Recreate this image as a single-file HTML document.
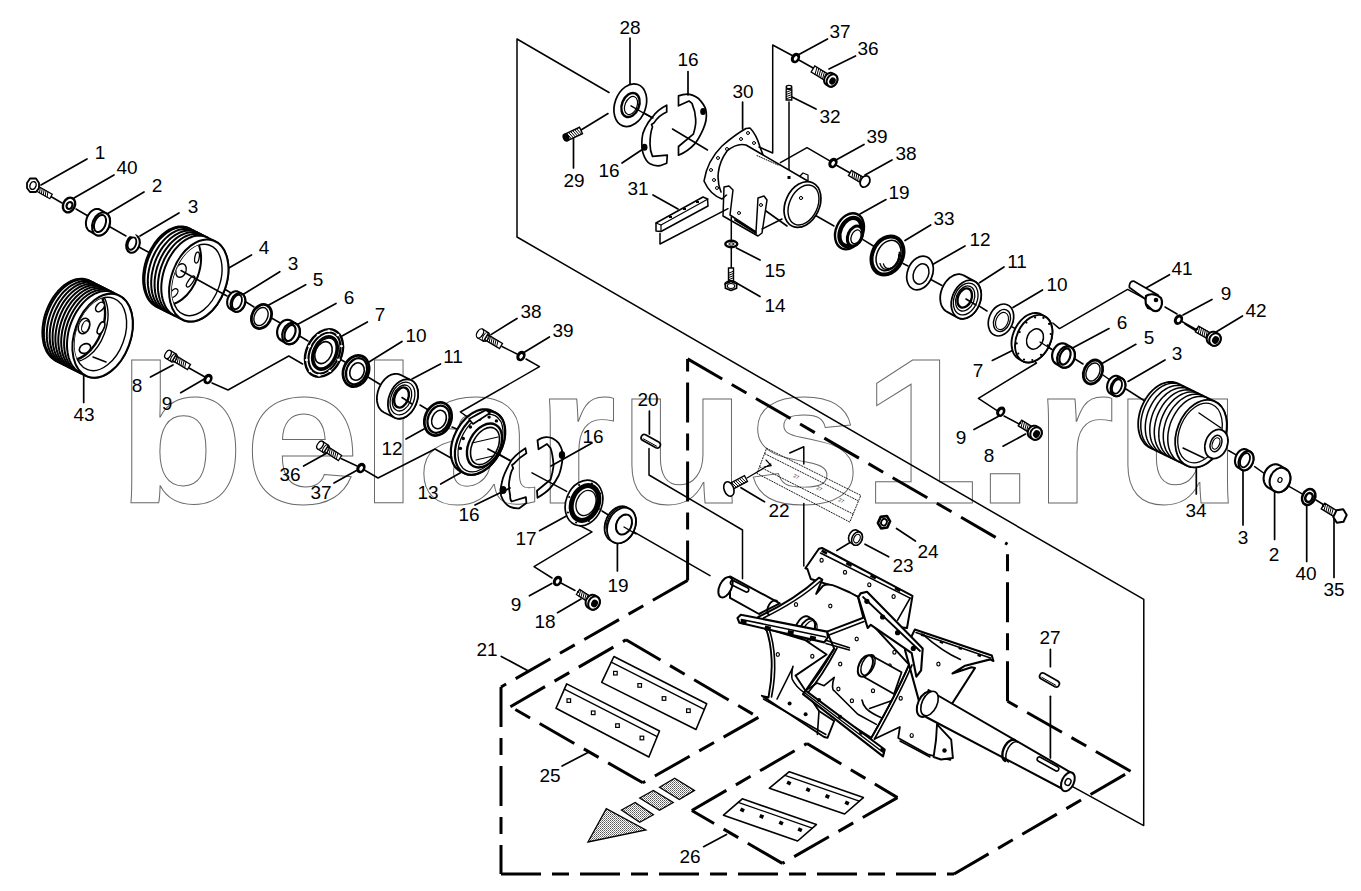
<!DOCTYPE html><html><head><meta charset="utf-8"><style>html,body{margin:0;padding:0;background:#fff;width:1361px;height:891px;overflow:hidden}svg{display:block}</style></head><body><svg width="1361" height="891" viewBox="0 0 1361 891" font-family="Liberation Sans, sans-serif" stroke-linecap="round">
<rect width="1361" height="891" fill="#fff"/>
<g font-size="208" font-weight="bold" fill="none" stroke="#6a6a6a" stroke-width="1" font-family="Liberation Sans, sans-serif"><text x="117.3" y="503" transform="translate(0 503) scale(1 0.947) translate(0 -503)">bela</text><text x="535.7" y="503" transform="translate(0 503) scale(1 0.947) translate(0 -503)">r</text><text x="619" y="503" transform="translate(0 503) scale(1 0.947) translate(0 -503)">us</text><text x="862.5" y="503">1</text><text x="976.3" y="503" transform="translate(0 503) scale(1 0.947) translate(0 -503)">.ru</text></g>
<g fill="#000" stroke="none">
<text x="100.0" y="159.0" font-size="19" text-anchor="middle">1</text>
<text x="127.0" y="174.0" font-size="19" text-anchor="middle">40</text>
<text x="157.0" y="192.0" font-size="19" text-anchor="middle">2</text>
<text x="193.0" y="213.0" font-size="19" text-anchor="middle">3</text>
<text x="264.0" y="254.0" font-size="19" text-anchor="middle">4</text>
<text x="293.0" y="270.0" font-size="19" text-anchor="middle">3</text>
<text x="318.0" y="286.0" font-size="19" text-anchor="middle">5</text>
<text x="349.0" y="304.0" font-size="19" text-anchor="middle">6</text>
<text x="380.0" y="321.0" font-size="19" text-anchor="middle">7</text>
<text x="416.0" y="342.0" font-size="19" text-anchor="middle">10</text>
<text x="453.0" y="363.0" font-size="19" text-anchor="middle">11</text>
<text x="392.0" y="455.0" font-size="19" text-anchor="middle">12</text>
<text x="428.0" y="499.0" font-size="19" text-anchor="middle">13</text>
<text x="290.0" y="481.0" font-size="19" text-anchor="middle">36</text>
<text x="321.0" y="499.0" font-size="19" text-anchor="middle">37</text>
<text x="137.0" y="392.0" font-size="19" text-anchor="middle">8</text>
<text x="167.0" y="410.0" font-size="19" text-anchor="middle">9</text>
<text x="84.0" y="421.0" font-size="19" text-anchor="middle">43</text>
<text x="630.0" y="34.0" font-size="19" text-anchor="middle">28</text>
<text x="688.0" y="66.0" font-size="19" text-anchor="middle">16</text>
<text x="609.0" y="177.0" font-size="19" text-anchor="middle">16</text>
<text x="574.0" y="187.0" font-size="19" text-anchor="middle">29</text>
<text x="743.0" y="98.0" font-size="19" text-anchor="middle">30</text>
<text x="638.0" y="195.0" font-size="19" text-anchor="middle">31</text>
<text x="840.0" y="38.0" font-size="19" text-anchor="middle">37</text>
<text x="868.0" y="55.0" font-size="19" text-anchor="middle">36</text>
<text x="830.0" y="123.0" font-size="19" text-anchor="middle">32</text>
<text x="877.0" y="143.0" font-size="19" text-anchor="middle">39</text>
<text x="906.0" y="160.0" font-size="19" text-anchor="middle">38</text>
<text x="899.0" y="199.0" font-size="19" text-anchor="middle">19</text>
<text x="944.0" y="225.0" font-size="19" text-anchor="middle">33</text>
<text x="980.0" y="246.0" font-size="19" text-anchor="middle">12</text>
<text x="1017.0" y="268.0" font-size="19" text-anchor="middle">11</text>
<text x="1057.0" y="291.0" font-size="19" text-anchor="middle">10</text>
<text x="775.0" y="277.0" font-size="19" text-anchor="middle">15</text>
<text x="775.0" y="312.0" font-size="19" text-anchor="middle">14</text>
<text x="1182.0" y="275.0" font-size="19" text-anchor="middle">41</text>
<text x="1226.0" y="300.0" font-size="19" text-anchor="middle">9</text>
<text x="1256.0" y="317.0" font-size="19" text-anchor="middle">42</text>
<text x="1122.0" y="329.0" font-size="19" text-anchor="middle">6</text>
<text x="1149.0" y="344.0" font-size="19" text-anchor="middle">5</text>
<text x="1177.0" y="360.0" font-size="19" text-anchor="middle">3</text>
<text x="978.0" y="377.0" font-size="19" text-anchor="middle">7</text>
<text x="961.0" y="444.0" font-size="19" text-anchor="middle">9</text>
<text x="989.0" y="462.0" font-size="19" text-anchor="middle">8</text>
<text x="1196.0" y="517.0" font-size="19" text-anchor="middle">34</text>
<text x="1243.0" y="544.0" font-size="19" text-anchor="middle">3</text>
<text x="1274.0" y="561.0" font-size="19" text-anchor="middle">2</text>
<text x="1306.0" y="580.0" font-size="19" text-anchor="middle">40</text>
<text x="1334.0" y="596.0" font-size="19" text-anchor="middle">35</text>
<text x="531.0" y="318.0" font-size="19" text-anchor="middle">38</text>
<text x="563.0" y="337.0" font-size="19" text-anchor="middle">39</text>
<text x="648.0" y="406.0" font-size="19" text-anchor="middle">20</text>
<text x="593.0" y="443.0" font-size="19" text-anchor="middle">16</text>
<text x="469.0" y="521.0" font-size="19" text-anchor="middle">16</text>
<text x="526.0" y="545.0" font-size="19" text-anchor="middle">17</text>
<text x="516.0" y="611.0" font-size="19" text-anchor="middle">9</text>
<text x="545.0" y="628.0" font-size="19" text-anchor="middle">18</text>
<text x="618.0" y="592.0" font-size="19" text-anchor="middle">19</text>
<text x="487.0" y="655.5" font-size="19" text-anchor="middle">21</text>
<text x="779.0" y="517.0" font-size="19" text-anchor="middle">22</text>
<text x="928.0" y="558.0" font-size="19" text-anchor="middle">24</text>
<text x="903.0" y="572.0" font-size="19" text-anchor="middle">23</text>
<text x="1050.0" y="644.0" font-size="19" text-anchor="middle">27</text>
<text x="550.0" y="782.0" font-size="19" text-anchor="middle">25</text>
<text x="690.0" y="863.0" font-size="19" text-anchor="middle">26</text>
</g>
<line x1="41.0" y1="185.0" x2="87.0" y2="159.0" stroke="#000" stroke-width="1.7" />
<line x1="74.0" y1="198.0" x2="114.0" y2="175.0" stroke="#000" stroke-width="1.7" />
<line x1="107.0" y1="214.0" x2="144.0" y2="192.0" stroke="#000" stroke-width="1.7" />
<line x1="140.0" y1="236.0" x2="179.0" y2="213.0" stroke="#000" stroke-width="1.7" />
<line x1="227.0" y1="269.0" x2="251.5" y2="255.0" stroke="#000" stroke-width="1.7" />
<line x1="239.7" y1="296.5" x2="279.8" y2="271.7" stroke="#000" stroke-width="1.7" />
<line x1="267.0" y1="306.0" x2="305.7" y2="284.7" stroke="#000" stroke-width="1.7" />
<line x1="294.7" y1="326.0" x2="336.0" y2="303.5" stroke="#000" stroke-width="1.7" />
<line x1="342.0" y1="336.0" x2="367.4" y2="322.0" stroke="#000" stroke-width="1.7" />
<line x1="369.0" y1="362.0" x2="402.0" y2="341.5" stroke="#000" stroke-width="1.7" />
<line x1="412.0" y1="379.0" x2="440.5" y2="364.0" stroke="#000" stroke-width="1.7" />
<line x1="406.0" y1="439.0" x2="424.0" y2="429.0" stroke="#000" stroke-width="1.7" />
<line x1="303.6" y1="466.0" x2="327.0" y2="453.0" stroke="#000" stroke-width="1.7" />
<line x1="334.0" y1="483.0" x2="361.0" y2="468.0" stroke="#000" stroke-width="1.7" />
<line x1="150.5" y1="377.0" x2="173.0" y2="365.0" stroke="#000" stroke-width="1.7" />
<line x1="180.7" y1="392.7" x2="204.3" y2="379.0" stroke="#000" stroke-width="1.7" />
<line x1="83.7" y1="371.0" x2="83.7" y2="402.5" stroke="#000" stroke-width="1.7" />
<line x1="630.0" y1="38.0" x2="630.0" y2="95.0" stroke="#000" stroke-width="1.7" />
<line x1="581.0" y1="130.0" x2="608.0" y2="113.6" stroke="#000" stroke-width="1.7" />
<line x1="573.5" y1="137.0" x2="573.5" y2="168.0" stroke="#000" stroke-width="1.7" />
<line x1="688.0" y1="71.5" x2="688.0" y2="95.0" stroke="#000" stroke-width="1.7" />
<line x1="622.0" y1="163.0" x2="643.0" y2="149.0" stroke="#000" stroke-width="1.7" />
<line x1="742.6" y1="102.0" x2="742.6" y2="129.0" stroke="#000" stroke-width="1.7" />
<line x1="653.0" y1="195.0" x2="678.0" y2="209.0" stroke="#000" stroke-width="1.7" />
<line x1="798.0" y1="55.0" x2="827.5" y2="39.0" stroke="#000" stroke-width="1.7" />
<line x1="829.0" y1="69.0" x2="855.5" y2="56.0" stroke="#000" stroke-width="1.7" />
<line x1="792.0" y1="97.0" x2="816.0" y2="109.0" stroke="#000" stroke-width="1.7" />
<line x1="836.0" y1="160.0" x2="864.0" y2="144.5" stroke="#000" stroke-width="1.7" />
<line x1="865.0" y1="175.0" x2="892.0" y2="160.0" stroke="#000" stroke-width="1.7" />
<line x1="860.0" y1="214.0" x2="886.0" y2="199.6" stroke="#000" stroke-width="1.7" />
<line x1="905.0" y1="240.6" x2="930.7" y2="225.0" stroke="#000" stroke-width="1.7" />
<line x1="932.6" y1="264.5" x2="965.0" y2="246.0" stroke="#000" stroke-width="1.7" />
<line x1="979.5" y1="282.7" x2="1004.0" y2="267.0" stroke="#000" stroke-width="1.7" />
<line x1="1013.0" y1="307.5" x2="1042.5" y2="290.0" stroke="#000" stroke-width="1.7" />
<line x1="736.5" y1="248.0" x2="760.0" y2="260.0" stroke="#000" stroke-width="1.7" />
<line x1="736.5" y1="283.0" x2="760.0" y2="296.6" stroke="#000" stroke-width="1.7" />
<line x1="1143.7" y1="289.3" x2="1169.5" y2="274.7" stroke="#000" stroke-width="1.7" />
<line x1="1183.0" y1="315.0" x2="1212.0" y2="299.4" stroke="#000" stroke-width="1.7" />
<line x1="1214.4" y1="333.0" x2="1242.5" y2="316.0" stroke="#000" stroke-width="1.7" />
<line x1="1073.0" y1="347.7" x2="1109.0" y2="328.6" stroke="#000" stroke-width="1.7" />
<line x1="1102.0" y1="363.4" x2="1135.9" y2="344.3" stroke="#000" stroke-width="1.7" />
<line x1="1128.0" y1="381.4" x2="1165.0" y2="360.0" stroke="#000" stroke-width="1.7" />
<line x1="992.3" y1="360.4" x2="1014.4" y2="349.4" stroke="#000" stroke-width="1.7" />
<line x1="974.0" y1="429.6" x2="998.6" y2="416.2" stroke="#000" stroke-width="1.7" />
<line x1="1003.0" y1="446.2" x2="1025.5" y2="434.1" stroke="#000" stroke-width="1.7" />
<line x1="1196.3" y1="468.0" x2="1196.3" y2="494.0" stroke="#000" stroke-width="1.7" />
<line x1="1243.0" y1="466.6" x2="1243.0" y2="525.0" stroke="#000" stroke-width="1.7" />
<line x1="1274.6" y1="488.5" x2="1274.6" y2="539.5" stroke="#000" stroke-width="1.7" />
<line x1="1306.7" y1="504.5" x2="1306.7" y2="561.4" stroke="#000" stroke-width="1.7" />
<line x1="1334.0" y1="519.0" x2="1334.0" y2="577.5" stroke="#000" stroke-width="1.7" />
<line x1="491.0" y1="334.6" x2="517.0" y2="318.5" stroke="#000" stroke-width="1.7" />
<line x1="524.7" y1="352.0" x2="549.4" y2="337.0" stroke="#000" stroke-width="1.7" />
<line x1="649.4" y1="411.0" x2="649.4" y2="434.0" stroke="#000" stroke-width="1.7" />
<line x1="551.0" y1="466.0" x2="592.0" y2="443.0" stroke="#000" stroke-width="1.7" />
<line x1="475.0" y1="505.0" x2="510.0" y2="488.0" stroke="#000" stroke-width="1.7" />
<line x1="440.7" y1="484.0" x2="460.5" y2="472.8" stroke="#000" stroke-width="1.7" />
<line x1="539.5" y1="530.7" x2="566.4" y2="516.0" stroke="#000" stroke-width="1.7" />
<line x1="617.4" y1="543.0" x2="617.4" y2="571.0" stroke="#000" stroke-width="1.7" />
<line x1="529.4" y1="595.8" x2="551.8" y2="583.5" stroke="#000" stroke-width="1.7" />
<line x1="557.5" y1="612.7" x2="581.0" y2="599.0" stroke="#000" stroke-width="1.7" />
<line x1="501.3" y1="656.5" x2="527.0" y2="670.2" stroke="#000" stroke-width="1.7" />
<line x1="741.0" y1="487.7" x2="764.5" y2="501.8" stroke="#000" stroke-width="1.7" />
<line x1="896.5" y1="528.5" x2="915.4" y2="541.0" stroke="#000" stroke-width="1.7" />
<line x1="865.0" y1="544.2" x2="888.7" y2="556.8" stroke="#000" stroke-width="1.7" />
<line x1="1050.4" y1="649.4" x2="1050.4" y2="666.7" stroke="#000" stroke-width="1.7" />
<line x1="1050.4" y1="696.3" x2="1050.4" y2="758.0" stroke="#000" stroke-width="1.7" />
<line x1="562.1" y1="766.0" x2="588.0" y2="752.4" stroke="#000" stroke-width="1.7" />
<line x1="703.6" y1="846.7" x2="726.5" y2="834.5" stroke="#000" stroke-width="1.7" />
<polyline points="609.0,92.5 517.0,39.0 517.0,237.0 1143.8,599.4 1143.7,825.6 1072.6,786.6" fill="none" stroke="#000" stroke-width="1.5" stroke-linejoin="round" />
<polyline points="795.0,57.0 772.7,45.0 772.7,153.0 759.0,147.0" fill="none" stroke="#000" stroke-width="1.5" stroke-linejoin="round" />
<polyline points="780.4,162.7 807.0,147.7 831.5,161.9" fill="none" stroke="#000" stroke-width="1.5" stroke-linejoin="round" />
<line x1="789.0" y1="102.0" x2="789.0" y2="177.6" stroke="#000" stroke-width="1.5" />
<line x1="731.3" y1="217.0" x2="731.3" y2="270.0" stroke="#000" stroke-width="1.5" />
<polyline points="660.0,233.5 660.0,244.0 728.0,208.7" fill="none" stroke="#000" stroke-width="1.5" stroke-linejoin="round" />
<polyline points="212.0,383.0 228.0,390.0 288.8,356.0 302.6,364.0" fill="none" stroke="#000" stroke-width="1.5" stroke-linejoin="round" />
<polyline points="526.0,359.0 539.5,366.7 460.4,412.0 468.8,417.9" fill="none" stroke="#000" stroke-width="1.5" stroke-linejoin="round" />
<polyline points="361.0,468.0 378.0,478.0 435.0,449.0 452.8,459.0" fill="none" stroke="#000" stroke-width="1.5" stroke-linejoin="round" />
<polyline points="578.8,525.0 592.0,531.8 534.0,566.7 552.0,578.0" fill="none" stroke="#000" stroke-width="1.5" stroke-linejoin="round" />
<polyline points="1052.8,323.0 1059.5,328.6 1127.6,289.4 1145.3,298.8" fill="none" stroke="#000" stroke-width="1.5" stroke-linejoin="round" />
<polyline points="1031.0,358.5 1036.5,363.0 978.4,398.3 998.6,411.7" fill="none" stroke="#000" stroke-width="1.5" stroke-linejoin="round" />
<line x1="1004.0" y1="416.0" x2="1019.0" y2="424.0" stroke="#000" stroke-width="1.5" />
<polyline points="649.0,448.4 649.0,475.0 742.5,530.0 742.5,578.8" fill="none" stroke="#000" stroke-width="1.5" stroke-linejoin="round" />
<line x1="626.0" y1="527.4" x2="710.0" y2="575.6" stroke="#000" stroke-width="1.5" />
<polyline points="789.7,453.0 803.8,446.8 803.8,464.0" fill="none" stroke="#000" stroke-width="1.5" stroke-linejoin="round" />
<line x1="803.8" y1="503.4" x2="803.8" y2="566.0" stroke="#000" stroke-width="1.5" />
<line x1="836.8" y1="550.5" x2="852.5" y2="541.0" stroke="#000" stroke-width="1.5" />
<line x1="747.0" y1="478.0" x2="770.8" y2="464.0" stroke="#000" stroke-width="1.2" />
<line x1="50.0" y1="196.0" x2="62.0" y2="203.0" stroke="#000" stroke-width="1.5" />
<line x1="76.0" y1="209.0" x2="88.0" y2="216.0" stroke="#000" stroke-width="1.5" />
<line x1="105.0" y1="224.0" x2="126.0" y2="236.0" stroke="#000" stroke-width="1.5" />
<line x1="137.0" y1="246.0" x2="150.0" y2="253.0" stroke="#000" stroke-width="1.5" />
<line x1="190.0" y1="268.0" x2="236.0" y2="296.0" stroke="#000" stroke-width="1.5" />
<line x1="246.0" y1="302.0" x2="254.0" y2="307.0" stroke="#000" stroke-width="1.5" />
<line x1="268.0" y1="316.0" x2="282.0" y2="324.0" stroke="#000" stroke-width="1.5" />
<line x1="298.0" y1="335.0" x2="308.0" y2="341.0" stroke="#000" stroke-width="1.5" />
<line x1="338.0" y1="358.0" x2="345.0" y2="362.0" stroke="#000" stroke-width="1.5" />
<line x1="368.0" y1="377.0" x2="381.0" y2="385.0" stroke="#000" stroke-width="1.5" />
<line x1="420.0" y1="405.0" x2="430.0" y2="411.0" stroke="#000" stroke-width="1.5" />
<line x1="452.0" y1="427.0" x2="464.0" y2="432.0" stroke="#000" stroke-width="1.5" />
<line x1="635.0" y1="108.0" x2="653.0" y2="118.0" stroke="#000" stroke-width="1.5" />
<line x1="672.5" y1="129.0" x2="707.5" y2="150.0" stroke="#000" stroke-width="1.5" />
<line x1="806.0" y1="210.0" x2="834.0" y2="226.0" stroke="#000" stroke-width="1.5" />
<line x1="863.0" y1="239.7" x2="873.4" y2="246.0" stroke="#000" stroke-width="1.5" />
<line x1="903.0" y1="263.5" x2="908.0" y2="266.0" stroke="#000" stroke-width="1.5" />
<line x1="928.0" y1="278.0" x2="942.0" y2="285.5" stroke="#000" stroke-width="1.5" />
<line x1="973.7" y1="302.7" x2="987.0" y2="311.0" stroke="#000" stroke-width="1.5" />
<line x1="1008.0" y1="324.7" x2="1018.6" y2="330.4" stroke="#000" stroke-width="1.5" />
<line x1="1038.7" y1="341.0" x2="1052.0" y2="349.5" stroke="#000" stroke-width="1.5" />
<line x1="1075.0" y1="359.0" x2="1083.0" y2="364.0" stroke="#000" stroke-width="1.5" />
<line x1="1103.0" y1="375.0" x2="1110.0" y2="380.0" stroke="#000" stroke-width="1.5" />
<line x1="1126.0" y1="389.0" x2="1151.0" y2="405.0" stroke="#000" stroke-width="1.5" />
<line x1="1228.5" y1="450.5" x2="1238.7" y2="456.3" stroke="#000" stroke-width="1.5" />
<line x1="1254.7" y1="466.6" x2="1266.4" y2="475.0" stroke="#000" stroke-width="1.5" />
<line x1="1282.5" y1="482.6" x2="1303.0" y2="494.3" stroke="#000" stroke-width="1.5" />
<line x1="1316.0" y1="500.0" x2="1323.3" y2="504.5" stroke="#000" stroke-width="1.5" />
<line x1="1150.0" y1="295.0" x2="1160.0" y2="300.0" stroke="#000" stroke-width="1.5" />
<line x1="1165.0" y1="307.0" x2="1177.0" y2="314.0" stroke="#000" stroke-width="1.5" />
<line x1="1185.0" y1="324.0" x2="1198.0" y2="332.0" stroke="#000" stroke-width="1.5" />
<line x1="485.0" y1="445.7" x2="510.0" y2="460.5" stroke="#000" stroke-width="1.5" />
<line x1="532.0" y1="472.8" x2="566.7" y2="491.4" stroke="#000" stroke-width="1.5" />
<line x1="602.0" y1="511.0" x2="610.0" y2="516.0" stroke="#000" stroke-width="1.5" />
<line x1="798.0" y1="59.5" x2="814.0" y2="68.5" stroke="#000" stroke-width="1.5" />
<line x1="836.0" y1="165.0" x2="851.0" y2="173.5" stroke="#000" stroke-width="1.5" />
<line x1="1181.0" y1="321.0" x2="1197.0" y2="330.0" stroke="#000" stroke-width="1.5" />
<line x1="189.0" y1="368.0" x2="205.0" y2="377.0" stroke="#000" stroke-width="1.5" />
<line x1="341.0" y1="458.5" x2="357.0" y2="466.0" stroke="#000" stroke-width="1.5" />
<line x1="502.0" y1="346.5" x2="517.0" y2="354.0" stroke="#000" stroke-width="1.5" />
<polygon points="36.8,191.2 49.8,198.7 52.2,194.3 39.2,186.8" fill="#fff" stroke="#000" stroke-width="1.3"/>
<line x1="39.5" y1="192.8" x2="40.3" y2="187.4" stroke="#000" stroke-width="1"/>
<line x1="41.4" y1="193.9" x2="42.2" y2="188.5" stroke="#000" stroke-width="1"/>
<line x1="43.3" y1="195.0" x2="44.1" y2="189.6" stroke="#000" stroke-width="1"/>
<line x1="45.2" y1="196.1" x2="46.0" y2="190.7" stroke="#000" stroke-width="1"/>
<line x1="47.1" y1="197.2" x2="47.9" y2="191.8" stroke="#000" stroke-width="1"/>
<polygon points="37.8,189.4 37.7,189.4 38.2,188.5 38.2,188.6" fill="#fff" stroke="#000" stroke-width="1.3" stroke-linejoin="round"/>
<ellipse cx="37.9" cy="189.0" rx="0.3" ry="0.5" transform="rotate(30.0 37.9 189.0)" fill="#fff" stroke="#000" stroke-width="1.3"/>
<ellipse cx="38.0" cy="189.0" rx="0.3" ry="0.5" transform="rotate(30.0 38.0 189.0)" fill="none" stroke="#000" stroke-width="1.04"/>
<polygon points="27.0,183.0 30.0,178.5 36.0,178.5 39.0,183.0 39.0,188.0 36.0,192.0 30.0,192.0 27.0,188.0" fill="#fff" stroke="#000" stroke-width="1.8" stroke-linejoin="round" />
<ellipse cx="33.0" cy="185.5" rx="3.0" ry="4.0" transform="rotate(20 33.0 185.5)" fill="#fff" stroke="#000" stroke-width="1.4" />
<ellipse cx="69.0" cy="205.0" rx="5.8" ry="7.6" transform="rotate(25 69.0 205.0)" fill="#fff" stroke="#000" stroke-width="2.4" />
<ellipse cx="69.5" cy="205.5" rx="2.8" ry="3.6" transform="rotate(25 69.5 205.5)" fill="#fff" stroke="#000" stroke-width="2.2" />
<polygon points="89.7,231.2 89.2,230.9 88.6,230.4 88.1,229.9 87.7,229.4 87.3,228.8 86.9,228.1 86.6,227.4 86.4,226.7 86.2,225.9 86.0,225.1 86.0,224.2 85.9,223.3 85.9,222.4 86.0,221.5 86.2,220.6 86.4,219.7 86.6,218.8 86.9,217.9 87.2,217.1 87.6,216.2 88.1,215.4 88.5,214.6 89.1,213.8 89.6,213.1 90.2,212.4 90.8,211.8 91.5,211.2 92.1,210.7 92.8,210.2 93.5,209.9 94.2,209.5 94.9,209.3 95.6,209.1 96.4,209.0 97.1,208.9 97.7,209.0 98.4,209.0 99.1,209.2 99.7,209.5 100.3,209.8 106.3,213.3 106.8,213.6 107.4,214.1 107.9,214.6 108.3,215.1 108.7,215.7 109.1,216.4 109.4,217.1 109.6,217.8 109.8,218.6 110.0,219.4 110.0,220.3 110.1,221.2 110.1,222.1 110.0,223.0 109.8,223.9 109.6,224.8 109.4,225.7 109.1,226.6 108.8,227.4 108.4,228.3 107.9,229.1 107.5,229.9 106.9,230.7 106.4,231.4 105.8,232.1 105.2,232.7 104.5,233.3 103.9,233.8 103.2,234.3 102.5,234.6 101.8,235.0 101.1,235.2 100.4,235.4 99.6,235.5 98.9,235.6 98.3,235.5 97.6,235.5 96.9,235.3 96.3,235.0 95.7,234.7" fill="#fff" stroke="#000" stroke-width="2" stroke-linejoin="round"/>
<ellipse cx="101.0" cy="224.0" rx="8.5" ry="12.0" transform="rotate(22 101.0 224.0)" fill="#fff" stroke="#000" stroke-width="2" />
<ellipse cx="100.0" cy="223.5" rx="5.5" ry="9.0" transform="rotate(22 100.0 223.5)" fill="#fff" stroke="#000" stroke-width="2" />
<ellipse cx="133.0" cy="244.0" rx="6.5" ry="9.0" transform="rotate(20 133.0 244.0)" fill="#fff" stroke="#000" stroke-width="2.1" />
<ellipse cx="132.0" cy="243.5" rx="4.0" ry="6.5" transform="rotate(20 132.0 243.5)" fill="#fff" stroke="#000" stroke-width="1.8" />
<path d="M129,236 L134,233 L137,237" fill="#fff" stroke="none"/>
<polygon points="55.8,360.8 53.9,359.6 52.1,358.3 50.4,356.7 48.9,354.9 47.5,352.9 46.2,350.7 45.2,348.3 44.2,345.7 43.5,343.0 43.0,340.1 42.6,337.2 42.4,334.1 42.4,330.9 42.6,327.7 43.0,324.4 43.5,321.1 44.2,317.8 45.1,314.6 46.2,311.3 47.5,308.1 48.9,305.0 50.4,302.0 52.1,299.1 53.9,296.4 55.8,293.8 57.8,291.3 59.9,289.1 62.1,287.0 64.4,285.1 66.7,283.5 69.0,282.1 71.4,280.9 73.8,280.0 76.1,279.3 78.5,278.9 80.8,278.7 83.0,278.8 85.2,279.2 87.4,279.8 89.4,280.6 119.4,295.6 121.3,296.8 123.1,298.1 124.8,299.7 126.3,301.5 127.7,303.5 129.0,305.7 130.0,308.1 131.0,310.7 131.7,313.4 132.2,316.3 132.6,319.2 132.8,322.3 132.8,325.5 132.6,328.7 132.2,332.0 131.7,335.3 131.0,338.6 130.1,341.8 129.0,345.1 127.7,348.3 126.3,351.4 124.8,354.4 123.1,357.3 121.3,360.0 119.4,362.6 117.4,365.1 115.3,367.3 113.1,369.4 110.8,371.3 108.5,372.9 106.2,374.3 103.8,375.5 101.4,376.4 99.1,377.1 96.7,377.5 94.4,377.7 92.2,377.6 90.0,377.2 87.8,376.6 85.8,375.8" fill="#fff" stroke="#000" stroke-width="2" stroke-linejoin="round"/>
<polyline points="57.3,361.5 55.4,360.4 53.6,359.0 51.9,357.5 50.4,355.7 49.0,353.6 47.7,351.4 46.7,349.0 45.7,346.5 45.0,343.7 44.5,340.9 44.1,337.9 43.9,334.8 43.9,331.7 44.1,328.4 44.5,325.2 45.0,321.9 45.7,318.6 46.6,315.3 47.7,312.1 49.0,308.9 50.4,305.8 51.9,302.8 53.6,299.9 55.4,297.1 57.3,294.5 59.3,292.1 61.4,289.8 63.6,287.7 65.9,285.9 68.2,284.2 70.5,282.8 72.9,281.7 75.3,280.7 77.6,280.1 80.0,279.6 82.3,279.5 84.5,279.6 86.7,279.9 88.9,280.5 90.9,281.4" fill="none" stroke="#000" stroke-width="2.0"/>
<polyline points="60.2,363.0 58.3,361.8 56.5,360.5 54.8,358.9 53.3,357.1 51.9,355.1 50.6,352.9 49.5,350.5 48.6,347.9 47.9,345.2 47.3,342.3 47.0,339.4 46.8,336.3 46.8,333.1 47.0,329.9 47.3,326.6 47.9,323.3 48.6,320.0 49.5,316.7 50.6,313.5 51.8,310.3 53.2,307.2 54.8,304.2 56.5,301.3 58.3,298.6 60.2,296.0 62.2,293.5 64.3,291.2 66.5,289.2 68.8,287.3 71.1,285.7 73.4,284.3 75.8,283.1 78.2,282.2 80.5,281.5 82.9,281.1 85.2,280.9 87.4,281.0 89.6,281.4 91.7,282.0 93.8,282.8" fill="none" stroke="#000" stroke-width="2.0"/>
<polyline points="63.1,364.4 61.2,363.3 59.4,361.9 57.7,360.4 56.1,358.6 54.8,356.5 53.5,354.3 52.4,351.9 51.5,349.4 50.8,346.6 50.2,343.8 49.9,340.8 49.7,337.7 49.7,334.5 49.9,331.3 50.2,328.1 50.8,324.8 51.5,321.5 52.4,318.2 53.5,314.9 54.7,311.8 56.1,308.7 57.7,305.7 59.3,302.8 61.2,300.0 63.1,297.4 65.1,295.0 67.2,292.7 69.4,290.6 71.7,288.8 74.0,287.1 76.3,285.7 78.7,284.5 81.0,283.6 83.4,282.9 85.8,282.5 88.1,282.4 90.3,282.5 92.5,282.8 94.6,283.4 96.7,284.3" fill="none" stroke="#000" stroke-width="2.0"/>
<polyline points="66.0,365.8 64.1,364.7 62.3,363.4 60.6,361.8 59.0,360.0 57.6,358.0 56.4,355.8 55.3,353.4 54.4,350.8 53.7,348.1 53.1,345.2 52.7,342.2 52.6,339.2 52.6,336.0 52.7,332.8 53.1,329.5 53.7,326.2 54.4,322.9 55.3,319.6 56.4,316.4 57.6,313.2 59.0,310.1 60.6,307.1 62.2,304.2 64.0,301.4 66.0,298.8 68.0,296.4 70.1,294.1 72.3,292.1 74.5,290.2 76.9,288.6 79.2,287.2 81.6,286.0 83.9,285.1 86.3,284.4 88.6,284.0 91.0,283.8 93.2,283.9 95.4,284.3 97.5,284.9 99.5,285.7" fill="none" stroke="#000" stroke-width="2.0"/>
<polyline points="68.9,367.3 66.9,366.2 65.1,364.8 63.5,363.2 61.9,361.4 60.5,359.4 59.3,357.2 58.2,354.8 57.3,352.2 56.6,349.5 56.0,346.7 55.6,343.7 55.4,340.6 55.4,337.4 55.6,334.2 56.0,330.9 56.6,327.6 57.3,324.4 58.2,321.1 59.3,317.8 60.5,314.7 61.9,311.6 63.4,308.5 65.1,305.7 66.9,302.9 68.8,300.3 70.9,297.8 73.0,295.6 75.2,293.5 77.4,291.7 79.7,290.0 82.1,288.6 84.4,287.4 86.8,286.5 89.2,285.8 91.5,285.4 93.8,285.2 96.1,285.3 98.3,285.7 100.4,286.3 102.4,287.2" fill="none" stroke="#000" stroke-width="2.0"/>
<polyline points="71.8,368.7 69.8,367.6 68.0,366.3 66.4,364.7 64.8,362.9 63.4,360.9 62.2,358.7 61.1,356.3 60.2,353.7 59.4,351.0 58.9,348.1 58.5,345.1 58.3,342.0 58.3,338.9 58.5,335.7 58.9,332.4 59.4,329.1 60.2,325.8 61.1,322.5 62.2,319.3 63.4,316.1 64.8,313.0 66.3,310.0 68.0,307.1 69.8,304.3 71.7,301.7 73.8,299.3 75.9,297.0 78.1,295.0 80.3,293.1 82.6,291.5 85.0,290.0 87.3,288.9 89.7,287.9 92.1,287.3 94.4,286.9 96.7,286.7 99.0,286.8 101.2,287.1 103.3,287.7 105.3,288.6" fill="none" stroke="#000" stroke-width="2.0"/>
<polyline points="74.6,370.2 72.7,369.1 70.9,367.7 69.2,366.1 67.7,364.3 66.3,362.3 65.1,360.1 64.0,357.7 63.1,355.1 62.3,352.4 61.8,349.5 61.4,346.6 61.2,343.5 61.2,340.3 61.4,337.1 61.8,333.8 62.3,330.5 63.1,327.2 64.0,324.0 65.0,320.7 66.3,317.5 67.7,314.4 69.2,311.4 70.9,308.5 72.7,305.8 74.6,303.2 76.6,300.7 78.8,298.5 80.9,296.4 83.2,294.5 85.5,292.9 87.9,291.5 90.2,290.3 92.6,289.4 95.0,288.7 97.3,288.3 99.6,288.1 101.9,288.2 104.1,288.6 106.2,289.2 108.2,290.1" fill="none" stroke="#000" stroke-width="2.0"/>
<polyline points="77.5,371.6 75.6,370.5 73.8,369.2 72.1,367.6 70.6,365.8 69.2,363.8 67.9,361.5 66.9,359.1 66.0,356.6 65.2,353.9 64.7,351.0 64.3,348.0 64.1,344.9 64.1,341.8 64.3,338.5 64.7,335.3 65.2,332.0 65.9,328.7 66.9,325.4 67.9,322.2 69.2,319.0 70.6,315.9 72.1,312.9 73.8,310.0 75.6,307.2 77.5,304.6 79.5,302.2 81.6,299.9 83.8,297.8 86.1,296.0 88.4,294.3 90.7,292.9 93.1,291.8 95.5,290.8 97.9,290.2 100.2,289.7 102.5,289.6 104.8,289.7 107.0,290.0 109.1,290.6 111.1,291.5" fill="none" stroke="#000" stroke-width="2.0"/>
<polyline points="80.4,373.1 78.5,371.9 76.7,370.6 75.0,369.0 73.5,367.2 72.1,365.2 70.8,363.0 69.8,360.6 68.8,358.0 68.1,355.3 67.6,352.4 67.2,349.5 67.0,346.4 67.0,343.2 67.2,340.0 67.6,336.7 68.1,333.4 68.8,330.1 69.7,326.9 70.8,323.6 72.1,320.4 73.5,317.3 75.0,314.3 76.7,311.4 78.5,308.7 80.4,306.1 82.4,303.6 84.5,301.4 86.7,299.3 89.0,297.4 91.3,295.8 93.6,294.4 96.0,293.2 98.4,292.3 100.7,291.6 103.1,291.2 105.4,291.0 107.6,291.1 109.8,291.5 112.0,292.1 114.0,292.9" fill="none" stroke="#000" stroke-width="2.0"/>
<ellipse cx="102.6" cy="335.7" rx="28.0" ry="43.5" transform="rotate(20 102.6 335.7)" fill="#fff" stroke="#000" stroke-width="2" />
<ellipse cx="100.6" cy="334.0" rx="24.0" ry="38.0" transform="rotate(20 100.6 334.0)" fill="#fff" stroke="#000" stroke-width="1.4" />
<clipPath id="c43"><ellipse cx="100.6" cy="334" rx="24" ry="38" transform="rotate(20 100.6 334)"/></clipPath><g clip-path="url(#c43)">
<ellipse cx="79.0" cy="323.5" rx="24.0" ry="38.0" transform="rotate(20 79.0 323.5)" fill="#fff" stroke="#000" stroke-width="2.4" />
<ellipse cx="82.0" cy="325.0" rx="24.0" ry="38.0" transform="rotate(20 82.0 325.0)" fill="none" stroke="#000" stroke-width="1.4" />
<ellipse cx="100.0" cy="307.0" rx="3.5" ry="5.5" transform="rotate(40 100.0 307.0)" fill="#fff" stroke="#000" stroke-width="1.6" />
<ellipse cx="84.0" cy="326.0" rx="5.5" ry="8.0" transform="rotate(20 84.0 326.0)" fill="#fff" stroke="#000" stroke-width="1.6" />
<ellipse cx="85.5" cy="326.5" rx="3.5" ry="6.0" transform="rotate(20 85.5 326.5)" fill="#fff" stroke="#000" stroke-width="1.2" />
<ellipse cx="101.0" cy="328.0" rx="2.8" ry="6.5" transform="rotate(25 101.0 328.0)" fill="#fff" stroke="#000" stroke-width="1.6" />
<ellipse cx="85.0" cy="348.5" rx="4.5" ry="6.0" transform="rotate(60 85.0 348.5)" fill="#fff" stroke="#000" stroke-width="1.6" />
</g>
<line x1="93.0" y1="357.0" x2="106.0" y2="362.0" stroke="#000" stroke-width="1.5" />
<polygon points="156.3,306.6 154.4,305.5 152.7,304.2 151.0,302.7 149.5,300.9 148.1,298.9 146.9,296.8 145.9,294.4 145.0,291.9 144.2,289.2 143.7,286.4 143.3,283.5 143.1,280.5 143.1,277.4 143.3,274.3 143.7,271.1 144.2,267.9 144.9,264.6 145.8,261.4 146.8,258.3 148.1,255.2 149.4,252.1 150.9,249.2 152.6,246.4 154.3,243.7 156.2,241.1 158.2,238.7 160.3,236.5 162.4,234.5 164.6,232.7 166.9,231.1 169.2,229.7 171.5,228.6 173.8,227.7 176.2,227.0 178.5,226.6 180.7,226.5 182.9,226.6 185.1,226.9 187.2,227.5 189.2,228.4 215.2,241.4 217.1,242.5 218.8,243.8 220.5,245.3 222.0,247.1 223.4,249.1 224.6,251.2 225.6,253.6 226.5,256.1 227.3,258.8 227.8,261.6 228.2,264.5 228.4,267.5 228.4,270.6 228.2,273.7 227.8,276.9 227.3,280.1 226.6,283.4 225.7,286.6 224.7,289.7 223.4,292.8 222.1,295.9 220.6,298.8 218.9,301.6 217.2,304.3 215.3,306.9 213.3,309.3 211.2,311.5 209.1,313.5 206.9,315.3 204.6,316.9 202.3,318.3 200.0,319.4 197.7,320.3 195.3,321.0 193.0,321.4 190.8,321.5 188.6,321.4 186.4,321.1 184.3,320.5 182.3,319.6" fill="#fff" stroke="#000" stroke-width="2" stroke-linejoin="round"/>
<polyline points="157.6,307.3 155.7,306.2 154.0,304.9 152.3,303.3 150.8,301.5 149.4,299.6 148.2,297.4 147.2,295.1 146.3,292.5 145.5,289.9 145.0,287.1 144.6,284.2 144.4,281.2 144.4,278.1 144.6,274.9 145.0,271.7 145.5,268.5 146.2,265.3 147.1,262.1 148.1,258.9 149.4,255.8 150.7,252.8 152.2,249.8 153.9,247.0 155.6,244.3 157.5,241.8 159.5,239.4 161.6,237.2 163.7,235.2 165.9,233.4 168.2,231.8 170.5,230.4 172.8,229.2 175.1,228.3 177.5,227.7 179.8,227.3 182.0,227.1 184.2,227.2 186.4,227.6 188.5,228.2 190.5,229.0" fill="none" stroke="#000" stroke-width="2.0"/>
<polyline points="161.0,309.0 159.1,307.9 157.4,306.6 155.7,305.0 154.2,303.2 152.8,301.3 151.6,299.1 150.5,296.8 149.6,294.2 148.9,291.6 148.4,288.8 148.0,285.9 147.8,282.9 147.8,279.8 148.0,276.6 148.3,273.4 148.9,270.2 149.6,267.0 150.5,263.8 151.5,260.6 152.7,257.5 154.1,254.5 155.6,251.5 157.3,248.7 159.0,246.0 160.9,243.5 162.9,241.1 165.0,238.9 167.1,236.9 169.3,235.0 171.6,233.4 173.9,232.1 176.2,230.9 178.5,230.0 180.8,229.4 183.1,229.0 185.4,228.8 187.6,228.9 189.8,229.3 191.9,229.9 193.8,230.7" fill="none" stroke="#000" stroke-width="2.0"/>
<polyline points="164.4,310.7 162.5,309.6 160.7,308.2 159.1,306.7 157.6,304.9 156.2,303.0 155.0,300.8 153.9,298.4 153.0,295.9 152.3,293.3 151.7,290.5 151.4,287.6 151.2,284.5 151.2,281.4 151.4,278.3 151.7,275.1 152.3,271.9 153.0,268.7 153.9,265.5 154.9,262.3 156.1,259.2 157.5,256.2 159.0,253.2 160.6,250.4 162.4,247.7 164.3,245.2 166.3,242.8 168.3,240.6 170.5,238.5 172.7,236.7 175.0,235.1 177.3,233.8 179.6,232.6 181.9,231.7 184.2,231.1 186.5,230.7 188.8,230.5 191.0,230.6 193.2,231.0 195.2,231.6 197.2,232.4" fill="none" stroke="#000" stroke-width="2.0"/>
<polyline points="167.8,312.3 165.9,311.3 164.1,309.9 162.5,308.4 160.9,306.6 159.6,304.6 158.4,302.5 157.3,300.1 156.4,297.6 155.7,295.0 155.1,292.2 154.8,289.2 154.6,286.2 154.6,283.1 154.7,280.0 155.1,276.8 155.6,273.6 156.3,270.4 157.2,267.1 158.3,264.0 159.5,260.9 160.9,257.8 162.4,254.9 164.0,252.1 165.8,249.4 167.7,246.8 169.6,244.5 171.7,242.2 173.9,240.2 176.1,238.4 178.3,236.8 180.6,235.4 183.0,234.3 185.3,233.4 187.6,232.8 189.9,232.3 192.2,232.2 194.4,232.3 196.5,232.6 198.6,233.2 200.6,234.1" fill="none" stroke="#000" stroke-width="2.0"/>
<polyline points="171.2,314.0 169.3,312.9 167.5,311.6 165.8,310.1 164.3,308.3 163.0,306.3 161.7,304.2 160.7,301.8 159.8,299.3 159.1,296.6 158.5,293.8 158.1,290.9 157.9,287.9 157.9,284.8 158.1,281.7 158.5,278.5 159.0,275.3 159.7,272.0 160.6,268.8 161.7,265.7 162.9,262.6 164.2,259.5 165.8,256.6 167.4,253.8 169.2,251.1 171.0,248.5 173.0,246.1 175.1,243.9 177.2,241.9 179.5,240.1 181.7,238.5 184.0,237.1 186.3,236.0 188.7,235.1 191.0,234.4 193.3,234.0 195.6,233.9 197.8,234.0 199.9,234.3 202.0,234.9 204.0,235.8" fill="none" stroke="#000" stroke-width="2.0"/>
<polyline points="174.5,315.7 172.6,314.6 170.9,313.3 169.2,311.8 167.7,310.0 166.3,308.0 165.1,305.9 164.1,303.5 163.2,301.0 162.4,298.3 161.9,295.5 161.5,292.6 161.3,289.6 161.3,286.5 161.5,283.4 161.9,280.2 162.4,277.0 163.1,273.7 164.0,270.5 165.0,267.4 166.3,264.3 167.6,261.2 169.1,258.3 170.8,255.5 172.5,252.8 174.4,250.2 176.4,247.8 178.5,245.6 180.6,243.6 182.8,241.8 185.1,240.2 187.4,238.8 189.7,237.7 192.0,236.8 194.4,236.1 196.7,235.7 198.9,235.6 201.1,235.7 203.3,236.0 205.4,236.6 207.4,237.5" fill="none" stroke="#000" stroke-width="2.0"/>
<ellipse cx="198.8" cy="280.5" rx="27.5" ry="42.5" transform="rotate(20 198.8 280.5)" fill="#fff" stroke="#000" stroke-width="2" />
<ellipse cx="197.0" cy="280.0" rx="23.0" ry="37.0" transform="rotate(20 197.0 280.0)" fill="#fff" stroke="#000" stroke-width="1.4" />
<clipPath id="c4"><ellipse cx="197" cy="280" rx="23" ry="37" transform="rotate(20 197 280)"/></clipPath><g clip-path="url(#c4)">
<ellipse cx="176.0" cy="269.0" rx="23.0" ry="37.0" transform="rotate(20 176.0 269.0)" fill="#fff" stroke="#000" stroke-width="2.0" />
<ellipse cx="197.0" cy="257.6" rx="2.2" ry="5.5" transform="rotate(10 197.0 257.6)" fill="#fff" stroke="#000" stroke-width="1.3" />
<ellipse cx="181.0" cy="270.5" rx="5.0" ry="7.0" transform="rotate(20 181.0 270.5)" fill="#fff" stroke="#000" stroke-width="1.4" />
<ellipse cx="190.6" cy="281.5" rx="2.2" ry="6.5" transform="rotate(35 190.6 281.5)" fill="#fff" stroke="#000" stroke-width="1.3" />
<ellipse cx="174.0" cy="293.0" rx="3.0" ry="5.0" transform="rotate(40 174.0 293.0)" fill="#fff" stroke="#000" stroke-width="1.3" />
</g>
<line x1="181.0" y1="270.5" x2="227.0" y2="296.0" stroke="#000" stroke-width="1.5" />
<polygon points="230.5,309.1 230.0,308.8 229.5,308.4 229.1,308.0 228.8,307.6 228.4,307.1 228.1,306.5 227.9,306.0 227.6,305.4 227.4,304.7 227.3,304.1 227.2,303.4 227.2,302.7 227.2,302.0 227.2,301.3 227.3,300.5 227.4,299.8 227.6,299.1 227.8,298.4 228.1,297.7 228.4,297.0 228.7,296.3 229.1,295.7 229.5,295.1 229.9,294.5 230.4,294.0 230.9,293.5 231.4,293.0 231.9,292.6 232.5,292.3 233.0,292.0 233.6,291.7 234.2,291.5 234.8,291.4 235.3,291.3 235.9,291.3 236.5,291.3 237.0,291.4 237.5,291.5 238.1,291.7 238.5,291.9 242.0,293.9 242.5,294.2 243.0,294.6 243.4,295.0 243.7,295.4 244.1,295.9 244.4,296.5 244.6,297.0 244.9,297.6 245.1,298.3 245.2,298.9 245.3,299.6 245.3,300.3 245.3,301.0 245.3,301.7 245.2,302.5 245.1,303.2 244.9,303.9 244.7,304.6 244.4,305.3 244.1,306.0 243.8,306.7 243.4,307.3 243.0,307.9 242.6,308.5 242.1,309.0 241.6,309.5 241.1,310.0 240.6,310.4 240.0,310.7 239.5,311.0 238.9,311.3 238.3,311.5 237.7,311.6 237.2,311.7 236.6,311.7 236.0,311.7 235.5,311.6 235.0,311.5 234.4,311.3 234.0,311.1" fill="#fff" stroke="#000" stroke-width="2.1" stroke-linejoin="round"/>
<ellipse cx="238.0" cy="302.5" rx="7.0" ry="9.5" transform="rotate(20 238.0 302.5)" fill="#fff" stroke="#000" stroke-width="2.1" />
<ellipse cx="237.0" cy="302.0" rx="4.5" ry="7.5" transform="rotate(20 237.0 302.0)" fill="#fff" stroke="#000" stroke-width="1.8" />
<ellipse cx="261.5" cy="316.5" rx="9.5" ry="12.5" transform="rotate(25 261.5 316.5)" fill="#fff" stroke="#000" stroke-width="2.8" />
<ellipse cx="261.0" cy="316.5" rx="6.5" ry="9.5" transform="rotate(25 261.0 316.5)" fill="#fff" stroke="#000" stroke-width="1.4" />
<polygon points="281.0,340.2 280.4,339.9 279.9,339.4 279.4,338.9 278.9,338.4 278.5,337.8 278.2,337.2 277.9,336.5 277.6,335.8 277.4,335.1 277.3,334.3 277.2,333.5 277.1,332.7 277.1,331.8 277.2,331.0 277.3,330.2 277.5,329.3 277.7,328.5 278.0,327.7 278.3,326.9 278.7,326.1 279.1,325.4 279.6,324.6 280.1,324.0 280.6,323.3 281.2,322.7 281.8,322.2 282.4,321.7 283.0,321.2 283.7,320.8 284.4,320.5 285.1,320.2 285.8,320.0 286.5,319.9 287.2,319.8 287.9,319.8 288.5,319.9 289.2,320.0 289.8,320.2 290.5,320.4 291.0,320.8 296.0,323.8 296.6,324.1 297.1,324.6 297.6,325.1 298.1,325.6 298.5,326.2 298.8,326.8 299.1,327.5 299.4,328.2 299.6,328.9 299.7,329.7 299.8,330.5 299.9,331.3 299.9,332.2 299.8,333.0 299.7,333.8 299.5,334.7 299.3,335.5 299.0,336.3 298.7,337.1 298.3,337.9 297.9,338.6 297.4,339.4 296.9,340.0 296.4,340.7 295.8,341.3 295.2,341.8 294.6,342.3 294.0,342.8 293.3,343.2 292.6,343.5 291.9,343.8 291.2,344.0 290.5,344.1 289.8,344.2 289.1,344.2 288.5,344.1 287.8,344.0 287.2,343.8 286.5,343.6 286.0,343.2" fill="#fff" stroke="#000" stroke-width="2.2" stroke-linejoin="round"/>
<ellipse cx="291.0" cy="333.5" rx="8.5" ry="11.0" transform="rotate(22 291.0 333.5)" fill="#fff" stroke="#000" stroke-width="2.2" />
<ellipse cx="290.0" cy="333.0" rx="5.0" ry="8.5" transform="rotate(22 290.0 333.0)" fill="#fff" stroke="#000" stroke-width="2.2" />
<ellipse cx="324.0" cy="353.0" rx="17.5" ry="25.0" transform="rotate(25 324.0 353.0)" fill="#fff" stroke="#000" stroke-width="2.4" />
<ellipse cx="324.5" cy="353.0" rx="14.5" ry="21.5" transform="rotate(25 324.5 353.0)" fill="none" stroke="#000" stroke-width="2.2" />
<ellipse cx="338.5" cy="359.8" rx="1.5" ry="1.2" fill="#fff"/>
<ellipse cx="329.9" cy="370.9" rx="1.5" ry="1.2" fill="#fff"/>
<ellipse cx="319.1" cy="375.2" rx="1.5" ry="1.2" fill="#fff"/>
<ellipse cx="310.2" cy="371.0" rx="1.5" ry="1.2" fill="#fff"/>
<ellipse cx="306.5" cy="359.9" rx="1.5" ry="1.2" fill="#fff"/>
<ellipse cx="309.5" cy="346.2" rx="1.5" ry="1.2" fill="#fff"/>
<ellipse cx="318.1" cy="335.1" rx="1.5" ry="1.2" fill="#fff"/>
<ellipse cx="328.9" cy="330.8" rx="1.5" ry="1.2" fill="#fff"/>
<ellipse cx="337.8" cy="335.0" rx="1.5" ry="1.2" fill="#fff"/>
<ellipse cx="341.5" cy="346.1" rx="1.5" ry="1.2" fill="#fff"/>
<ellipse cx="325.0" cy="353.0" rx="11.0" ry="17.0" transform="rotate(25 325.0 353.0)" fill="none" stroke="#000" stroke-width="3.6" />
<ellipse cx="323.5" cy="352.6" rx="8.0" ry="11.5" transform="rotate(25 323.5 352.6)" fill="#fff" stroke="#000" stroke-width="1.6" />
<ellipse cx="356.0" cy="371.0" rx="12.5" ry="16.0" transform="rotate(22 356.0 371.0)" fill="#fff" stroke="#000" stroke-width="2.8" />
<ellipse cx="356.5" cy="371.2" rx="10.0" ry="13.5" transform="rotate(22 356.5 371.2)" fill="none" stroke="#000" stroke-width="2.2" />
<ellipse cx="357.0" cy="371.5" rx="7.0" ry="9.0" transform="rotate(22 357.0 371.5)" fill="#fff" stroke="#000" stroke-width="1.6" />
<polygon points="383.6,412.2 382.7,411.6 381.8,411.0 380.9,410.2 380.2,409.3 379.5,408.4 378.8,407.3 378.3,406.2 377.9,404.9 377.5,403.6 377.2,402.3 377.0,400.9 376.9,399.4 376.9,397.9 377.0,396.4 377.2,394.9 377.5,393.3 377.8,391.8 378.3,390.2 378.8,388.7 379.5,387.2 380.2,385.8 380.9,384.4 381.8,383.0 382.7,381.8 383.6,380.6 384.6,379.4 385.7,378.4 386.8,377.4 387.9,376.6 389.1,375.8 390.2,375.2 391.4,374.7 392.6,374.3 393.8,374.0 394.9,373.8 396.1,373.8 397.2,373.9 398.3,374.1 399.4,374.4 400.4,374.8 411.4,380.3 412.3,380.9 413.2,381.5 414.1,382.3 414.8,383.2 415.5,384.1 416.2,385.2 416.7,386.3 417.1,387.6 417.5,388.9 417.8,390.2 418.0,391.6 418.1,393.1 418.1,394.6 418.0,396.1 417.8,397.6 417.5,399.2 417.2,400.7 416.7,402.3 416.2,403.8 415.5,405.3 414.8,406.7 414.1,408.1 413.2,409.5 412.3,410.7 411.4,411.9 410.4,413.1 409.3,414.1 408.2,415.1 407.1,415.9 405.9,416.7 404.8,417.3 403.6,417.8 402.4,418.2 401.2,418.5 400.1,418.7 398.9,418.7 397.8,418.6 396.7,418.4 395.6,418.1 394.6,417.7" fill="#fff" stroke="#000" stroke-width="1.8" stroke-linejoin="round"/>
<ellipse cx="403.0" cy="399.0" rx="14.0" ry="20.5" transform="rotate(22 403.0 399.0)" fill="#fff" stroke="#000" stroke-width="1.8" />
<ellipse cx="402.5" cy="398.5" rx="11.5" ry="17.0" transform="rotate(22 402.5 398.5)" fill="#fff" stroke="#000" stroke-width="1.3" />
<ellipse cx="402.0" cy="398.0" rx="9.0" ry="13.5" transform="rotate(22 402.0 398.0)" fill="#fff" stroke="#000" stroke-width="1.3" />
<ellipse cx="401.5" cy="397.5" rx="6.8" ry="10.5" transform="rotate(22 401.5 397.5)" fill="#fff" stroke="#000" stroke-width="2.4" />
<line x1="402.0" y1="397.5" x2="412.0" y2="404.0" stroke="#000" stroke-width="1.6" />
<ellipse cx="438.0" cy="419.0" rx="13.0" ry="17.0" transform="rotate(22 438.0 419.0)" fill="#fff" stroke="#000" stroke-width="2.8" />
<ellipse cx="438.5" cy="419.2" rx="10.5" ry="14.0" transform="rotate(22 438.5 419.2)" fill="none" stroke="#000" stroke-width="2.2" />
<ellipse cx="439.0" cy="419.5" rx="7.0" ry="9.5" transform="rotate(22 439.0 419.5)" fill="#fff" stroke="#000" stroke-width="1.6" />
<polygon points="460.4,471.2 458.9,470.3 457.5,469.3 456.2,468.1 455.0,466.7 454.0,465.1 453.1,463.4 452.4,461.6 451.8,459.6 451.3,457.6 451.0,455.4 450.9,453.1 450.9,450.8 451.0,448.4 451.4,445.9 451.8,443.5 452.4,441.0 453.2,438.5 454.1,436.0 455.2,433.6 456.3,431.2 457.6,428.8 459.0,426.6 460.5,424.4 462.1,422.3 463.8,420.4 465.6,418.5 467.4,416.8 469.3,415.3 471.2,413.9 473.1,412.7 475.1,411.7 477.1,410.8 479.1,410.1 481.0,409.6 482.9,409.3 484.8,409.3 486.6,409.4 488.4,409.6 490.1,410.1 491.6,410.8 495.6,412.8 497.1,413.7 498.5,414.7 499.8,415.9 501.0,417.3 502.0,418.9 502.9,420.6 503.6,422.4 504.2,424.4 504.7,426.4 505.0,428.6 505.1,430.9 505.1,433.2 505.0,435.6 504.6,438.1 504.2,440.5 503.6,443.0 502.8,445.5 501.9,448.0 500.8,450.4 499.7,452.8 498.4,455.2 497.0,457.4 495.5,459.6 493.9,461.7 492.2,463.6 490.4,465.5 488.6,467.2 486.7,468.7 484.8,470.1 482.9,471.3 480.9,472.3 478.9,473.2 476.9,473.9 475.0,474.4 473.1,474.7 471.2,474.7 469.4,474.6 467.6,474.4 465.9,473.9 464.4,473.2" fill="#fff" stroke="#000" stroke-width="2.2" stroke-linejoin="round"/>
<ellipse cx="480.0" cy="443.0" rx="22.0" ry="34.0" transform="rotate(28 480.0 443.0)" fill="#fff" stroke="#000" stroke-width="2.2" />
<ellipse cx="480.5" cy="443.0" rx="19.5" ry="31.0" transform="rotate(28 480.5 443.0)" fill="none" stroke="#000" stroke-width="1.2" />
<circle cx="470.4" cy="427.0" r="1.7" fill="#000"/>
<circle cx="479.7" cy="419.3" r="1.7" fill="#000"/>
<circle cx="489.1" cy="417.1" r="1.7" fill="#000"/>
<circle cx="496.4" cy="420.9" r="1.7" fill="#000"/>
<circle cx="499.8" cy="430.0" r="1.7" fill="#000"/>
<circle cx="498.6" cy="442.0" r="1.7" fill="#000"/>
<circle cx="492.5" cy="455.2" r="1.7" fill="#000"/>
<circle cx="460.4" cy="448.4" r="1.7" fill="#000"/>
<circle cx="463.3" cy="438.5" r="1.7" fill="#000"/>
<ellipse cx="484.5" cy="445.5" rx="15.5" ry="23.5" transform="rotate(28 484.5 445.5)" fill="#fff" stroke="#000" stroke-width="2.4" />
<ellipse cx="485.0" cy="446.0" rx="12.5" ry="20.0" transform="rotate(28 485.0 446.0)" fill="#fff" stroke="#000" stroke-width="1.6" />
<polygon points="473.0,424.0 469.0,419.0 486.0,410.0 490.0,413.0" fill="#fff" stroke="#000" stroke-width="1.6" stroke-linejoin="round" />
<line x1="472.0" y1="443.0" x2="498.0" y2="437.0" stroke="#000" stroke-width="1.1" />
<line x1="476.0" y1="460.0" x2="493.0" y2="456.0" stroke="#000" stroke-width="1.1" />
<line x1="488.0" y1="449.0" x2="510.0" y2="460.5" stroke="#000" stroke-width="1.7" />
<polygon points="172.5,360.6 187.5,369.6 190.5,364.4 175.5,355.4" fill="#fff" stroke="#000" stroke-width="1.3"/>
<line x1="175.2" y1="362.2" x2="176.6" y2="356.0" stroke="#000" stroke-width="1"/>
<line x1="177.1" y1="363.4" x2="178.5" y2="357.2" stroke="#000" stroke-width="1"/>
<line x1="179.0" y1="364.5" x2="180.3" y2="358.3" stroke="#000" stroke-width="1"/>
<line x1="180.9" y1="365.6" x2="182.2" y2="359.4" stroke="#000" stroke-width="1"/>
<line x1="182.7" y1="366.7" x2="184.1" y2="360.6" stroke="#000" stroke-width="1"/>
<line x1="184.6" y1="367.9" x2="186.0" y2="361.7" stroke="#000" stroke-width="1"/>
<polygon points="171.7,361.9 165.7,358.3 170.3,350.5 176.3,354.1" fill="#fff" stroke="#000" stroke-width="1.3" stroke-linejoin="round"/>
<ellipse cx="168.0" cy="354.4" rx="2.7" ry="4.5" transform="rotate(31.0 168.0 354.4)" fill="#fff" stroke="#000" stroke-width="1.3"/>
<ellipse cx="174.0" cy="358.0" rx="2.7" ry="4.5" transform="rotate(31.0 174.0 358.0)" fill="none" stroke="#000" stroke-width="1.04"/>
<ellipse cx="208.0" cy="379.0" rx="4.3" ry="5.6" transform="rotate(30 208.0 379.0)" fill="#000"/>
<ellipse cx="208.3" cy="379.2" rx="1.6" ry="2.5" transform="rotate(30 208.0 379.0)" fill="#fff"/>
<polygon points="324.4,451.5 338.4,460.5 341.6,455.5 327.6,446.5" fill="#fff" stroke="#000" stroke-width="1.3"/>
<line x1="327.1" y1="453.3" x2="328.6" y2="447.1" stroke="#000" stroke-width="1"/>
<line x1="328.9" y1="454.4" x2="330.5" y2="448.3" stroke="#000" stroke-width="1"/>
<line x1="330.8" y1="455.6" x2="332.3" y2="449.5" stroke="#000" stroke-width="1"/>
<line x1="332.6" y1="456.8" x2="334.2" y2="450.7" stroke="#000" stroke-width="1"/>
<line x1="334.5" y1="458.0" x2="336.0" y2="451.9" stroke="#000" stroke-width="1"/>
<line x1="336.3" y1="459.2" x2="337.9" y2="453.1" stroke="#000" stroke-width="1"/>
<polygon points="323.6,452.8 317.7,449.0 322.5,441.4 328.4,445.2" fill="#fff" stroke="#000" stroke-width="1.3" stroke-linejoin="round"/>
<ellipse cx="320.1" cy="445.2" rx="2.7" ry="4.5" transform="rotate(32.7 320.1 445.2)" fill="#fff" stroke="#000" stroke-width="1.3"/>
<ellipse cx="326.0" cy="449.0" rx="2.7" ry="4.5" transform="rotate(32.7 326.0 449.0)" fill="none" stroke="#000" stroke-width="1.04"/>
<ellipse cx="361.0" cy="468.0" rx="4.3" ry="5.6" transform="rotate(30 361.0 468.0)" fill="#000"/>
<ellipse cx="361.3" cy="468.2" rx="1.6" ry="2.5" transform="rotate(30 361.0 468.0)" fill="#fff"/>
<polygon points="484.5,339.6 499.5,348.6 502.5,343.4 487.5,334.4" fill="#fff" stroke="#000" stroke-width="1.3"/>
<line x1="487.2" y1="341.2" x2="488.6" y2="335.0" stroke="#000" stroke-width="1"/>
<line x1="489.1" y1="342.4" x2="490.5" y2="336.2" stroke="#000" stroke-width="1"/>
<line x1="491.0" y1="343.5" x2="492.3" y2="337.3" stroke="#000" stroke-width="1"/>
<line x1="492.9" y1="344.6" x2="494.2" y2="338.4" stroke="#000" stroke-width="1"/>
<line x1="494.7" y1="345.7" x2="496.1" y2="339.6" stroke="#000" stroke-width="1"/>
<line x1="496.6" y1="346.9" x2="498.0" y2="340.7" stroke="#000" stroke-width="1"/>
<polygon points="483.4,341.3 477.4,337.7 482.6,329.1 488.6,332.7" fill="#fff" stroke="#000" stroke-width="1.3" stroke-linejoin="round"/>
<ellipse cx="480.0" cy="333.4" rx="3.0" ry="5.0" transform="rotate(31.0 480.0 333.4)" fill="#fff" stroke="#000" stroke-width="1.3"/>
<ellipse cx="486.0" cy="337.0" rx="3.0" ry="5.0" transform="rotate(31.0 486.0 337.0)" fill="none" stroke="#000" stroke-width="1.04"/>
<ellipse cx="521.0" cy="356.0" rx="4.3" ry="5.6" transform="rotate(30 521.0 356.0)" fill="#000"/>
<ellipse cx="521.3" cy="356.2" rx="1.6" ry="2.5" transform="rotate(30 521.0 356.0)" fill="#fff"/>
<path d="M525.4,448.2 C518,453 513,457 510.2,462.4 C506,470 503,476 502.1,481.6 C500.5,487 500.5,491 501.1,495.7 C503,501 506,505 510.2,506.8 C513,508 516,508.5 519.3,508.3 L526.4,503 L525.9,497.2 L511.5,501.5 C510,499 510,497 510.2,495.7 C509,490 508.5,486 509.2,481.6 C510,476 511,471 513.2,468.4 L512,465 L514.2,463.4 C518,459 522,456 526.4,453.3 Z" fill="none" stroke="#000" stroke-width="1.8" stroke-linejoin="round" />
<path d="M537.5,440.2 C541,438 544,437 546.6,437.1 C551,437 555,439 558.7,443.2 C562,448 563,452 562.7,457.3 C562,464 561,470 558.7,475.5 C556,481 553,485 550.6,487.6 C547,492 542,495 537.5,497.7 L537,490.7 L550.6,479.5 C552,475 553,470 553.6,465.4 C553,458 552,452 550.6,448.2 L547,444 L538.5,449.2 Z" fill="none" stroke="#000" stroke-width="1.8" stroke-linejoin="round" />
<ellipse cx="503" cy="490" rx="3.5" ry="4" fill="#000"/>
<ellipse cx="562" cy="455" rx="3.2" ry="4" fill="#000"/>
<ellipse cx="584.0" cy="503.0" rx="18.0" ry="23.5" transform="rotate(22 584.0 503.0)" fill="#fff" stroke="#000" stroke-width="1.7" />
<ellipse cx="585.0" cy="503.0" rx="13.0" ry="18.0" transform="rotate(22 585.0 503.0)" fill="#fff" stroke="#000" stroke-width="5" />
<ellipse cx="586.0" cy="503.0" rx="9.5" ry="13.0" transform="rotate(22 586.0 503.0)" fill="#fff" stroke="#000" stroke-width="1.3" />
<circle cx="598.8" cy="509.0" r="1.1" fill="#000"/>
<circle cx="588.9" cy="521.0" r="1.1" fill="#000"/>
<circle cx="576.1" cy="522.5" r="1.1" fill="#000"/>
<circle cx="567.9" cy="512.5" r="1.1" fill="#000"/>
<circle cx="569.2" cy="497.0" r="1.1" fill="#000"/>
<circle cx="579.1" cy="485.0" r="1.1" fill="#000"/>
<circle cx="591.9" cy="483.5" r="1.1" fill="#000"/>
<circle cx="600.1" cy="493.5" r="1.1" fill="#000"/>
<polygon points="610.4,540.3 609.5,539.7 608.7,539.1 607.9,538.3 607.2,537.4 606.6,536.4 606.1,535.4 605.6,534.3 605.2,533.1 604.9,531.9 604.7,530.6 604.6,529.3 604.6,528.0 604.6,526.6 604.8,525.2 605.0,523.8 605.3,522.4 605.7,521.0 606.2,519.7 606.7,518.3 607.4,517.0 608.1,515.8 608.9,514.6 609.7,513.4 610.6,512.3 611.6,511.3 612.5,510.4 613.6,509.5 614.7,508.8 615.7,508.1 616.9,507.5 618.0,507.0 619.1,506.7 620.3,506.4 621.4,506.3 622.5,506.2 623.6,506.3 624.6,506.5 625.7,506.8 626.7,507.2 627.6,507.7 630.1,509.2 631.0,509.8 631.8,510.4 632.6,511.2 633.3,512.1 633.9,513.1 634.4,514.1 634.9,515.2 635.3,516.4 635.6,517.6 635.8,518.9 635.9,520.2 635.9,521.5 635.9,522.9 635.7,524.3 635.5,525.7 635.2,527.1 634.8,528.5 634.3,529.8 633.8,531.2 633.1,532.5 632.4,533.7 631.6,534.9 630.8,536.1 629.9,537.2 628.9,538.2 628.0,539.1 626.9,540.0 625.8,540.7 624.8,541.4 623.6,542.0 622.5,542.5 621.4,542.8 620.2,543.1 619.1,543.2 618.0,543.3 616.9,543.2 615.9,543.0 614.8,542.7 613.8,542.3 612.9,541.8" fill="#fff" stroke="#000" stroke-width="1.8" stroke-linejoin="round"/>
<ellipse cx="621.5" cy="525.5" rx="13.5" ry="18.5" transform="rotate(24 621.5 525.5)" fill="#fff" stroke="#000" stroke-width="1.8" />
<polyline points="606.1,528.2 606.1,527.2 606.2,526.2 606.3,525.1 606.5,524.1 606.8,523.1 607.0,522.0 607.4,521.0 607.8,520.0 608.2,519.0 608.6,518.0 609.1,517.1 609.7,516.2 610.2,515.3 610.8,514.4 611.5,513.6 612.2,512.8 612.9,512.0 613.6,511.3 614.3,510.6 615.1,510.0 615.9,509.4 616.7,508.9 617.5,508.4 618.3,508.0 619.2,507.7 620.0,507.4 620.9,507.1 621.7,506.9 622.5,506.8 623.4,506.7" fill="none" stroke="#000" stroke-width="1.3"/>
<ellipse cx="624.0" cy="524.5" rx="7.5" ry="10.5" transform="rotate(24 624.0 524.5)" fill="#fff" stroke="#000" stroke-width="2" />
<polyline points="618.2,532.1 617.7,531.7 617.3,531.2 616.9,530.6 616.6,530.0 616.4,529.4 616.2,528.7 616.0,527.9 615.9,527.2 615.9,526.4 616.0,525.5 616.1,524.7 616.2,523.9 616.4,523.0 616.7,522.2 617.1,521.4 617.4,520.6 617.9,519.8 618.4,519.1 618.9,518.4 619.4,517.7 620.0,517.2 620.6,516.6 621.3,516.2 621.9,515.8 622.6,515.5 623.2,515.2 623.9,515.0 624.5,514.9 625.2,514.9 625.8,515.0" fill="none" stroke="#000" stroke-width="1.2"/>
<line x1="624.0" y1="527.0" x2="636.0" y2="534.0" stroke="#000" stroke-width="1.4" />
<ellipse cx="557.5" cy="581.0" rx="4.3" ry="5.6" transform="rotate(30 557.5 581.0)" fill="#000"/>
<ellipse cx="557.8" cy="581.2" rx="1.6" ry="2.5" transform="rotate(30 557.5 581.0)" fill="#fff"/>
<polygon points="576.4,594.5 590.4,603.5 593.6,598.5 579.6,589.5" fill="#fff" stroke="#000" stroke-width="1.3"/>
<line x1="579.1" y1="596.3" x2="580.6" y2="590.1" stroke="#000" stroke-width="1"/>
<line x1="580.9" y1="597.4" x2="582.5" y2="591.3" stroke="#000" stroke-width="1"/>
<line x1="582.8" y1="598.6" x2="584.3" y2="592.5" stroke="#000" stroke-width="1"/>
<line x1="584.6" y1="599.8" x2="586.2" y2="593.7" stroke="#000" stroke-width="1"/>
<line x1="586.5" y1="601.0" x2="588.0" y2="594.9" stroke="#000" stroke-width="1"/>
<line x1="588.3" y1="602.2" x2="589.9" y2="596.1" stroke="#000" stroke-width="1"/>
<polygon points="577.7,592.4 577.6,592.4 578.2,591.5 578.3,591.6" fill="#fff" stroke="#000" stroke-width="1.3" stroke-linejoin="round"/>
<ellipse cx="577.9" cy="591.9" rx="0.3" ry="0.5" transform="rotate(32.7 577.9 591.9)" fill="#fff" stroke="#000" stroke-width="1.3"/>
<ellipse cx="578.0" cy="592.0" rx="0.3" ry="0.5" transform="rotate(32.7 578.0 592.0)" fill="none" stroke="#000" stroke-width="1.04"/>
<polygon points="588.0,607.6 587.7,607.3 587.3,607.1 587.0,606.7 586.7,606.4 586.5,606.0 586.3,605.6 586.1,605.2 585.9,604.7 585.8,604.3 585.7,603.8 585.7,603.3 585.6,602.8 585.7,602.3 585.7,601.7 585.8,601.2 585.9,600.7 586.1,600.2 586.3,599.7 586.5,599.2 586.8,598.7 587.1,598.2 587.4,597.8 587.7,597.3 588.1,596.9 588.5,596.6 588.9,596.2 589.3,595.9 589.7,595.6 590.2,595.4 590.6,595.2 591.1,595.0 591.5,594.9 592.0,594.8 592.5,594.8 592.9,594.8 593.4,594.9 593.8,594.9 594.2,595.1 594.6,595.2 595.0,595.4 597.5,596.9 597.8,597.2 598.2,597.4 598.5,597.8 598.8,598.1 599.0,598.5 599.2,598.9 599.4,599.3 599.6,599.8 599.7,600.2 599.8,600.7 599.8,601.2 599.9,601.7 599.8,602.2 599.8,602.8 599.7,603.3 599.6,603.8 599.4,604.3 599.2,604.8 599.0,605.3 598.7,605.8 598.4,606.3 598.1,606.7 597.8,607.2 597.4,607.6 597.0,607.9 596.6,608.3 596.2,608.6 595.8,608.9 595.3,609.1 594.9,609.3 594.4,609.5 594.0,609.6 593.5,609.7 593.0,609.7 592.6,609.7 592.1,609.6 591.7,609.6 591.3,609.4 590.9,609.3 590.5,609.1" fill="#fff" stroke="#000" stroke-width="2" stroke-linejoin="round"/>
<ellipse cx="594.0" cy="603.0" rx="5.5" ry="7.0" transform="rotate(28 594.0 603.0)" fill="#fff" stroke="#000" stroke-width="2" />
<ellipse cx="594.5" cy="603.5" rx="2.4" ry="3.0" transform="rotate(28 594.5 603.5)" fill="#000" stroke="#000" stroke-width="1.8" />
<line x1="561.0" y1="583.0" x2="575.0" y2="590.5" stroke="#000" stroke-width="1.5" />
<ellipse cx="630.3" cy="105.2" rx="15.5" ry="22.0" transform="rotate(20 630.3 105.2)" fill="#fff" stroke="#000" stroke-width="1.7" />
<ellipse cx="630.5" cy="105.0" rx="8.5" ry="12.5" transform="rotate(22 630.5 105.0)" fill="#fff" stroke="#000" stroke-width="2.4" />
<ellipse cx="631.0" cy="105.5" rx="6.0" ry="9.5" transform="rotate(22 631.0 105.5)" fill="#fff" stroke="#000" stroke-width="1.2" />
<line x1="631.0" y1="105.8" x2="651.3" y2="117.5" stroke="#000" stroke-width="1.4" />
<polygon points="568.5,140.2 582.5,133.7 579.5,127.3 565.5,133.8" fill="#fff" stroke="#000" stroke-width="1.4"/>
<line x1="571.4" y1="138.8" x2="566.6" y2="133.3" stroke="#000" stroke-width="1"/>
<line x1="573.4" y1="137.9" x2="568.6" y2="132.4" stroke="#000" stroke-width="1"/>
<line x1="575.4" y1="137.0" x2="570.6" y2="131.5" stroke="#000" stroke-width="1"/>
<line x1="577.4" y1="136.0" x2="572.6" y2="130.5" stroke="#000" stroke-width="1"/>
<line x1="579.4" y1="135.1" x2="574.6" y2="129.6" stroke="#000" stroke-width="1"/>
<line x1="581.4" y1="134.2" x2="576.6" y2="128.7" stroke="#000" stroke-width="1"/>
<polygon points="567.2,137.5 567.1,137.5 566.7,136.6 566.8,136.5" fill="#fff" stroke="#000" stroke-width="1.4" stroke-linejoin="round"/>
<ellipse cx="566.9" cy="137.0" rx="0.3" ry="0.5" transform="rotate(-24.9 566.9 137.0)" fill="#fff" stroke="#000" stroke-width="1.4"/>
<ellipse cx="567.0" cy="137.0" rx="0.3" ry="0.5" transform="rotate(-24.9 567.0 137.0)" fill="none" stroke="#000" stroke-width="1.1199999999999999"/>
<ellipse cx="566.0" cy="137.5" rx="2.5" ry="3.5" transform="rotate(-25 566.0 137.5)" fill="#000" stroke="#000" stroke-width="1.6" />
<path d="M666.7,105.2 C661,108 656,112 652.5,116.9 C649,121 647,124 645.1,128 C643,132 642,136 642,139.1 C641.5,145 642,150 643.3,154 C645,159 647,162 650,163.8 C653,165.5 657,166 660,165.7 L666.7,163.2 L667.3,155.2 L652.5,156.4 C650.5,152 650,148 650,144 C650,137 651,131 652.5,126.8 L651.5,124.5 L653.8,123.1 C657,118 662,114 666.7,112 Z" fill="none" stroke="#000" stroke-width="1.7" stroke-linejoin="round" />
<path d="M678.5,95.9 C682,94.5 685,94 688.3,94.1 C693,95 698,97 700.7,100.9 C704,105 706,108 706.2,112 C707,118 705.5,124 703.1,129.3 C700.5,135 698,140 694.5,144.1 C690,149 684,153 678.5,155.2 L678.5,146.5 L693.3,134.2 C695,129 696,124 695.7,119.4 C695.5,113 694,108 692,103.3 L689,101 L678.5,105.8 Z" fill="none" stroke="#000" stroke-width="1.7" stroke-linejoin="round" />
<ellipse cx="644.5" cy="147.2" rx="3" ry="3.5" fill="#000"/>
<ellipse cx="703" cy="111.4" rx="2.8" ry="3.5" fill="#000"/>
<path d="M704,181 C706,168 712,156 722,146 C730,139 738,133 746,128.5 L750,128 C754,132 758,140 760,147 L765,160 L722,199 C714,196 708,190 704,181 Z" fill="none" stroke="#000" stroke-width="1.6" stroke-linejoin="round" />
<circle cx="711" cy="170" r="1.5" fill="#fff" stroke="#000" stroke-width="1"/>
<circle cx="718" cy="158" r="1.5" fill="#fff" stroke="#000" stroke-width="1"/>
<circle cx="727" cy="149" r="1.5" fill="#fff" stroke="#000" stroke-width="1"/>
<circle cx="741" cy="139" r="1.5" fill="#fff" stroke="#000" stroke-width="1"/>
<circle cx="748" cy="133" r="1.5" fill="#fff" stroke="#000" stroke-width="1"/>
<circle cx="754" cy="143" r="1.5" fill="#fff" stroke="#000" stroke-width="1"/>
<circle cx="714" cy="180" r="1.5" fill="#fff" stroke="#000" stroke-width="1"/>
<circle cx="717" cy="188" r="1.5" fill="#fff" stroke="#000" stroke-width="1"/>
<path d="M721,192 C716,180 717,165 727,151 C733,146 739,143 746,145 L809.5,182 L791,228 L730,196 Z" fill="#fff" stroke="none"/>
<path d="M721,192 C716,180 717,165 727,151 C733,146 739,143 746,145 L809.5,182" fill="none" stroke="#000" stroke-width="1.6" stroke-linejoin="round" />
<path d="M766,211 L787,226" fill="none" stroke="#000" stroke-width="1.6" stroke-linejoin="round" />
<ellipse cx="802.5" cy="204.5" rx="17.0" ry="24.0" transform="rotate(25 802.5 204.5)" fill="#fff" stroke="#000" stroke-width="1.7" />
<ellipse cx="803.5" cy="205.0" rx="14.0" ry="21.0" transform="rotate(25 803.5 205.0)" fill="#fff" stroke="#000" stroke-width="1.4" />
<circle cx="801" cy="198" r="1.6" fill="none" stroke="#000" stroke-width="1"/>
<path d="M724,187 L729,186 L733,190 L730,215 L756,232 L758,198 L764,196 L767,200 L762,233 L758,236 L723,216 Z" fill="none" stroke="#000" stroke-width="1.5" stroke-linejoin="round" />
<line x1="735.0" y1="220.0" x2="756.0" y2="233.0" stroke="#000" stroke-width="2" />
<line x1="762.0" y1="229.0" x2="782.0" y2="219.0" stroke="#000" stroke-width="1.4" />
<circle cx="761" cy="205" r="1.5" fill="none" stroke="#000" stroke-width="1"/>
<circle cx="739" cy="213" r="1.5" fill="none" stroke="#000" stroke-width="1"/>
<line x1="757" y1="155.6" x2="778" y2="165" stroke="#000" stroke-width="1" stroke-dasharray="1,1.5"/>
<rect x="787.5" y="176" width="3" height="3" fill="#000"/>
<path d="M800,176 L803,173 L808,175 L808,180" fill="none" stroke="#000" stroke-width="1.3" stroke-linejoin="round" />
<polygon points="786.2,89.0 786.2,100.0 791.8,100.0 791.8,89.0" fill="#fff" stroke="#000" stroke-width="1.3"/>
<line x1="786.2" y1="92.2" x2="791.8" y2="90.2" stroke="#000" stroke-width="1"/>
<line x1="786.2" y1="94.4" x2="791.8" y2="92.4" stroke="#000" stroke-width="1"/>
<line x1="786.2" y1="96.6" x2="791.8" y2="94.6" stroke="#000" stroke-width="1"/>
<line x1="786.2" y1="98.8" x2="791.8" y2="96.8" stroke="#000" stroke-width="1"/>
<polygon points="788.5,89.0 788.5,88.9 789.5,88.9 789.5,89.0" fill="#fff" stroke="#000" stroke-width="1.3" stroke-linejoin="round"/>
<ellipse cx="789.0" cy="88.9" rx="0.3" ry="0.5" transform="rotate(90.0 789.0 88.9)" fill="#fff" stroke="#000" stroke-width="1.3"/>
<ellipse cx="789.0" cy="89.0" rx="0.3" ry="0.5" transform="rotate(90.0 789.0 89.0)" fill="none" stroke="#000" stroke-width="1.04"/>
<ellipse cx="789.0" cy="87.0" rx="2.8" ry="1.6" transform="rotate(0 789.0 87.0)" fill="#fff" stroke="#000" stroke-width="1.4" />
<ellipse cx="795.5" cy="58.0" rx="4.3" ry="5.6" transform="rotate(30 795.5 58.0)" fill="#000"/>
<ellipse cx="795.8" cy="58.2" rx="1.6" ry="2.5" transform="rotate(30 795.5 58.0)" fill="#fff"/>
<polygon points="832.8,77.0 814.8,66.0 811.2,72.0 829.2,83.0" fill="#fff" stroke="#000" stroke-width="1.4"/>
<line x1="830.1" y1="75.3" x2="828.2" y2="82.4" stroke="#000" stroke-width="1"/>
<line x1="828.2" y1="74.2" x2="826.3" y2="81.2" stroke="#000" stroke-width="1"/>
<line x1="826.3" y1="73.1" x2="824.4" y2="80.1" stroke="#000" stroke-width="1"/>
<line x1="824.5" y1="71.9" x2="822.5" y2="78.9" stroke="#000" stroke-width="1"/>
<line x1="822.6" y1="70.8" x2="820.6" y2="77.8" stroke="#000" stroke-width="1"/>
<line x1="820.7" y1="69.6" x2="818.8" y2="76.6" stroke="#000" stroke-width="1"/>
<line x1="818.8" y1="68.5" x2="816.9" y2="75.5" stroke="#000" stroke-width="1"/>
<line x1="817.0" y1="67.3" x2="815.0" y2="74.3" stroke="#000" stroke-width="1"/>
<polygon points="831.3,79.6 831.3,79.6 830.8,80.5 830.7,80.4" fill="#fff" stroke="#000" stroke-width="1.4" stroke-linejoin="round"/>
<ellipse cx="831.1" cy="80.1" rx="0.3" ry="0.5" transform="rotate(-148.6 831.1 80.1)" fill="#fff" stroke="#000" stroke-width="1.4"/>
<ellipse cx="831.0" cy="80.0" rx="0.3" ry="0.5" transform="rotate(-148.6 831.0 80.0)" fill="none" stroke="#000" stroke-width="1.1199999999999999"/>
<polygon points="826.2,84.6 825.9,84.4 825.6,84.1 825.3,83.8 825.0,83.5 824.8,83.2 824.6,82.8 824.4,82.4 824.3,82.0 824.2,81.6 824.1,81.1 824.1,80.7 824.1,80.2 824.1,79.7 824.2,79.2 824.3,78.8 824.4,78.3 824.6,77.8 824.7,77.3 825.0,76.9 825.2,76.4 825.5,76.0 825.8,75.6 826.1,75.2 826.4,74.8 826.8,74.5 827.2,74.2 827.6,73.9 828.0,73.6 828.4,73.4 828.8,73.2 829.2,73.1 829.7,73.0 830.1,72.9 830.5,72.8 830.9,72.8 831.3,72.9 831.7,73.0 832.1,73.1 832.5,73.2 832.8,73.4 835.3,74.9 835.6,75.1 835.9,75.4 836.2,75.7 836.5,76.0 836.7,76.3 836.9,76.7 837.1,77.1 837.2,77.5 837.3,77.9 837.4,78.4 837.4,78.8 837.4,79.3 837.4,79.8 837.3,80.3 837.2,80.7 837.1,81.2 836.9,81.7 836.8,82.2 836.5,82.6 836.3,83.1 836.0,83.5 835.7,83.9 835.4,84.3 835.1,84.7 834.7,85.0 834.3,85.3 833.9,85.6 833.5,85.9 833.1,86.1 832.7,86.3 832.3,86.4 831.8,86.5 831.4,86.6 831.0,86.7 830.6,86.7 830.2,86.6 829.8,86.5 829.4,86.4 829.0,86.3 828.7,86.1" fill="#fff" stroke="#000" stroke-width="2" stroke-linejoin="round"/>
<ellipse cx="832.0" cy="80.5" rx="5.0" ry="6.5" transform="rotate(30 832.0 80.5)" fill="#fff" stroke="#000" stroke-width="2" />
<ellipse cx="832.5" cy="81.0" rx="2.2" ry="2.8" transform="rotate(30 832.5 81.0)" fill="#000" stroke="#000" stroke-width="1.8" />
<ellipse cx="833.0" cy="163.0" rx="4.3" ry="5.6" transform="rotate(30 833.0 163.0)" fill="#000"/>
<ellipse cx="833.3" cy="163.2" rx="1.6" ry="2.5" transform="rotate(30 833.0 163.0)" fill="#fff"/>
<polygon points="863.5,177.4 851.5,170.4 848.5,175.6 860.5,182.6" fill="#fff" stroke="#000" stroke-width="1.4"/>
<line x1="860.7" y1="175.8" x2="859.5" y2="182.0" stroke="#000" stroke-width="1"/>
<line x1="858.8" y1="174.7" x2="857.6" y2="180.9" stroke="#000" stroke-width="1"/>
<line x1="856.9" y1="173.6" x2="855.7" y2="179.8" stroke="#000" stroke-width="1"/>
<line x1="855.0" y1="172.5" x2="853.8" y2="178.7" stroke="#000" stroke-width="1"/>
<line x1="853.1" y1="171.4" x2="851.9" y2="177.6" stroke="#000" stroke-width="1"/>
<polygon points="862.3,179.6 862.3,179.6 861.8,180.5 861.7,180.4" fill="#fff" stroke="#000" stroke-width="1.4" stroke-linejoin="round"/>
<ellipse cx="862.1" cy="180.1" rx="0.3" ry="0.5" transform="rotate(-149.7 862.1 180.1)" fill="#fff" stroke="#000" stroke-width="1.4"/>
<ellipse cx="862.0" cy="180.0" rx="0.3" ry="0.5" transform="rotate(-149.7 862.0 180.0)" fill="none" stroke="#000" stroke-width="1.1199999999999999"/>
<ellipse cx="865.0" cy="181.5" rx="4.5" ry="6.0" transform="rotate(30 865.0 181.5)" fill="#fff" stroke="#000" stroke-width="1.8" />
<polygon points="656.0,223.0 703.0,197.0 707.5,199.0 708.0,206.0 661.0,231.5 656.0,231.0" fill="#fff" stroke="#000" stroke-width="1.5" stroke-linejoin="round" />
<polyline points="656.0,223.0 661.0,225.0 708.0,199.0" fill="none" stroke="#000" stroke-width="1.2" stroke-linejoin="round" />
<line x1="661.0" y1="225.0" x2="661.0" y2="231.5" stroke="#000" stroke-width="1.2" />
<rect x="669" y="216" width="3" height="2" fill="#000"/><rect x="683" y="208" width="3" height="2" fill="#000"/><rect x="696" y="201" width="3" height="2" fill="#000"/>
<ellipse cx="731.3" cy="244.0" rx="6.0" ry="3.2" transform="rotate(0 731.3 244.0)" fill="#fff" stroke="#000" stroke-width="2.4" />
<ellipse cx="731.3" cy="244.0" rx="2.5" ry="1.2" transform="rotate(0 731.3 244.0)" fill="#fff" stroke="#000" stroke-width="1" />
<polygon points="733.5,281.0 733.5,268.0 728.5,268.0 728.5,281.0" fill="#fff" stroke="#000" stroke-width="1.4"/>
<line x1="733.5" y1="277.8" x2="728.5" y2="279.8" stroke="#000" stroke-width="1"/>
<line x1="733.5" y1="275.6" x2="728.5" y2="277.6" stroke="#000" stroke-width="1"/>
<line x1="733.5" y1="273.4" x2="728.5" y2="275.4" stroke="#000" stroke-width="1"/>
<line x1="733.5" y1="271.2" x2="728.5" y2="273.2" stroke="#000" stroke-width="1"/>
<polygon points="731.5,281.0 731.5,281.1 730.5,281.1 730.5,281.0" fill="#fff" stroke="#000" stroke-width="1.4" stroke-linejoin="round"/>
<ellipse cx="731.0" cy="281.1" rx="0.3" ry="0.5" transform="rotate(-90.0 731.0 281.1)" fill="#fff" stroke="#000" stroke-width="1.4"/>
<ellipse cx="731.0" cy="281.0" rx="0.3" ry="0.5" transform="rotate(-90.0 731.0 281.0)" fill="none" stroke="#000" stroke-width="1.1199999999999999"/>
<ellipse cx="731.0" cy="284.0" rx="6.0" ry="3.0" transform="rotate(0 731.0 284.0)" fill="#fff" stroke="#000" stroke-width="1.6" />
<polygon points="736.6,288.2 731.0,290.5 725.4,288.2 725.4,283.8 731.0,281.5 736.6,283.8" fill="#fff" stroke="#000" stroke-width="1.7" stroke-linejoin="round"/>
<ellipse cx="731.0" cy="286.0" rx="3.6" ry="2.5" transform="rotate(0 731.0 286.0)" fill="none" stroke="#000" stroke-width="1.1"/>
<ellipse cx="849.5" cy="231.3" rx="13.5" ry="18.8" transform="rotate(24 849.5 231.3)" fill="#fff" stroke="#000" stroke-width="2.4" />
<ellipse cx="850.5" cy="232.0" rx="10.2" ry="14.8" transform="rotate(24 850.5 232.0)" fill="none" stroke="#000" stroke-width="4.2" />
<ellipse cx="855.0" cy="236.0" rx="7.0" ry="10.5" transform="rotate(24 855.0 236.0)" fill="#fff" stroke="#000" stroke-width="3" />
<ellipse cx="856.0" cy="236.8" rx="4.6" ry="7.2" transform="rotate(24 856.0 236.8)" fill="#fff" stroke="#000" stroke-width="1.3" />
<ellipse cx="887.5" cy="255.5" rx="15.0" ry="19.8" transform="rotate(25 887.5 255.5)" fill="#fff" stroke="#000" stroke-width="4" />
<ellipse cx="888.5" cy="255.5" rx="11.5" ry="16.0" transform="rotate(25 888.5 255.5)" fill="#fff" stroke="#000" stroke-width="1.5" />
<polyline points="899.3,252.3 899.3,253.5 899.3,254.7 899.2,255.9 898.9,257.1 898.6,258.3 898.2,259.6 897.7,260.7 897.1,261.9 896.5,263.0 895.7,264.0 895.0,265.0 894.1,265.9 893.2,266.7 892.3,267.4 891.4,268.0 890.4,268.5 889.4,268.9 888.5,269.2 887.5,269.3 886.6,269.4 885.7,269.3 884.8,269.1 884.0,268.8 883.2,268.3 882.5,267.8 881.8,267.1 881.3,266.4 880.8,265.5 880.4,264.6 880.0,263.6" fill="none" stroke="#000" stroke-width="1.4"/>
<polyline points="898.7,254.6 898.7,255.6 898.7,256.5 898.6,257.5 898.4,258.5 898.1,259.5 897.8,260.4 897.4,261.4 896.9,262.3 896.4,263.2 895.8,264.1 895.2,264.9 894.5,265.6 893.8,266.2 893.1,266.8 892.3,267.3 891.6,267.7 890.8,268.1 890.1,268.3 889.3,268.4 888.6,268.5 887.9,268.4 887.2,268.3 886.5,268.0 885.9,267.7 885.4,267.2 884.9,266.7 884.4,266.1 884.1,265.4 883.8,264.7 883.5,263.9" fill="none" stroke="#000" stroke-width="1.3"/>
<ellipse cx="920.0" cy="273.0" rx="12.5" ry="17.5" transform="rotate(22 920.0 273.0)" fill="#fff" stroke="#000" stroke-width="1.7" />
<ellipse cx="921.0" cy="274.0" rx="7.5" ry="10.5" transform="rotate(22 921.0 274.0)" fill="#fff" stroke="#000" stroke-width="1.5" />
<polygon points="946.7,311.6 945.7,311.0 944.9,310.3 944.0,309.5 943.3,308.6 942.6,307.6 942.0,306.5 941.5,305.4 941.1,304.2 940.7,302.9 940.5,301.5 940.3,300.1 940.2,298.7 940.2,297.2 940.3,295.7 940.5,294.2 940.8,292.7 941.2,291.2 941.7,289.7 942.2,288.2 942.9,286.8 943.6,285.4 944.4,284.0 945.2,282.7 946.1,281.5 947.1,280.4 948.1,279.3 949.1,278.3 950.2,277.4 951.4,276.7 952.5,276.0 953.7,275.4 954.8,274.9 956.0,274.6 957.2,274.4 958.3,274.2 959.5,274.2 960.6,274.4 961.7,274.6 962.7,275.0 963.7,275.4 974.7,281.4 975.7,282.0 976.5,282.7 977.4,283.5 978.1,284.4 978.8,285.4 979.4,286.5 979.9,287.6 980.3,288.8 980.7,290.1 980.9,291.5 981.1,292.9 981.2,294.3 981.2,295.8 981.1,297.3 980.9,298.8 980.6,300.3 980.2,301.8 979.7,303.3 979.2,304.8 978.5,306.2 977.8,307.6 977.0,309.0 976.2,310.3 975.3,311.5 974.3,312.6 973.3,313.7 972.3,314.7 971.2,315.6 970.0,316.3 968.9,317.0 967.7,317.6 966.6,318.1 965.4,318.4 964.2,318.6 963.1,318.8 961.9,318.8 960.8,318.6 959.7,318.4 958.7,318.0 957.7,317.6" fill="#fff" stroke="#000" stroke-width="1.8" stroke-linejoin="round"/>
<ellipse cx="966.2" cy="299.5" rx="14.0" ry="20.0" transform="rotate(22 966.2 299.5)" fill="#fff" stroke="#000" stroke-width="1.8" />
<ellipse cx="965.7" cy="299.0" rx="11.5" ry="16.5" transform="rotate(22 965.7 299.0)" fill="#fff" stroke="#000" stroke-width="1.3" />
<ellipse cx="965.2" cy="298.5" rx="9.0" ry="13.0" transform="rotate(22 965.2 298.5)" fill="#fff" stroke="#000" stroke-width="1.3" />
<ellipse cx="964.7" cy="298.0" rx="6.8" ry="10.0" transform="rotate(22 964.7 298.0)" fill="#fff" stroke="#000" stroke-width="2.4" />
<line x1="966.0" y1="299.0" x2="976.0" y2="305.0" stroke="#000" stroke-width="1.6" />
<ellipse cx="1001.0" cy="320.0" rx="12.0" ry="16.5" transform="rotate(22 1001.0 320.0)" fill="#fff" stroke="#000" stroke-width="1.7" />
<ellipse cx="1002.0" cy="320.5" rx="8.0" ry="11.5" transform="rotate(22 1002.0 320.5)" fill="#fff" stroke="#000" stroke-width="1.4" />
<ellipse cx="1002.0" cy="321.0" rx="6.0" ry="9.0" transform="rotate(22 1002.0 321.0)" fill="#fff" stroke="#000" stroke-width="1.1" />
<polygon points="1018.8,358.9 1017.7,358.2 1016.6,357.3 1015.6,356.3 1014.8,355.2 1014.0,354.0 1013.3,352.7 1012.7,351.2 1012.3,349.7 1011.9,348.1 1011.7,346.4 1011.5,344.7 1011.5,342.9 1011.6,341.1 1011.8,339.3 1012.2,337.4 1012.6,335.5 1013.2,333.7 1013.8,331.8 1014.6,330.0 1015.4,328.3 1016.4,326.5 1017.4,324.9 1018.5,323.3 1019.7,321.8 1020.9,320.4 1022.2,319.1 1023.6,317.9 1024.9,316.8 1026.4,315.8 1027.8,315.0 1029.3,314.3 1030.7,313.8 1032.2,313.3 1033.7,313.1 1035.1,312.9 1036.5,313.0 1037.8,313.1 1039.2,313.4 1040.4,313.9 1041.6,314.5 1045.1,316.5 1046.2,317.2 1047.3,318.1 1048.3,319.1 1049.1,320.2 1049.9,321.4 1050.6,322.7 1051.2,324.2 1051.6,325.7 1052.0,327.3 1052.2,329.0 1052.4,330.7 1052.4,332.5 1052.3,334.3 1052.1,336.1 1051.7,338.0 1051.3,339.9 1050.7,341.7 1050.1,343.6 1049.3,345.4 1048.5,347.1 1047.5,348.9 1046.5,350.5 1045.4,352.1 1044.2,353.6 1043.0,355.0 1041.7,356.3 1040.3,357.5 1039.0,358.6 1037.5,359.6 1036.1,360.4 1034.6,361.1 1033.2,361.6 1031.7,362.1 1030.2,362.3 1028.8,362.5 1027.4,362.4 1026.1,362.3 1024.7,362.0 1023.5,361.5 1022.3,360.9" fill="#fff" stroke="#000" stroke-width="1.9" stroke-linejoin="round"/>
<ellipse cx="1033.7" cy="338.7" rx="17.0" ry="25.0" transform="rotate(25 1033.7 338.7)" fill="#fff" stroke="#000" stroke-width="1.9" />
<ellipse cx="1035.0" cy="339.0" rx="8.0" ry="10.5" transform="rotate(25 1035.0 339.0)" fill="#fff" stroke="#000" stroke-width="1.5" />
<circle cx="1047.7" cy="345.3" r="1.1" fill="#000"/>
<circle cx="1041.0" cy="354.8" r="1.1" fill="#000"/>
<circle cx="1032.3" cy="360.0" r="1.1" fill="#000"/>
<circle cx="1024.0" cy="359.5" r="1.1" fill="#000"/>
<circle cx="1018.3" cy="353.5" r="1.1" fill="#000"/>
<circle cx="1016.7" cy="343.4" r="1.1" fill="#000"/>
<circle cx="1019.7" cy="332.1" r="1.1" fill="#000"/>
<circle cx="1026.4" cy="322.6" r="1.1" fill="#000"/>
<circle cx="1035.1" cy="317.4" r="1.1" fill="#000"/>
<circle cx="1043.4" cy="317.9" r="1.1" fill="#000"/>
<circle cx="1049.1" cy="323.9" r="1.1" fill="#000"/>
<circle cx="1050.7" cy="334.0" r="1.1" fill="#000"/>
<line x1="1040.0" y1="342.0" x2="1052.0" y2="349.5" stroke="#000" stroke-width="1.4" />
<path d="M1129.4,285.3 C1130,282 1132,281 1134,281.2 L1158,295 L1145.3,299 L1129.4,287.5 Z" fill="#fff" stroke="#000" stroke-width="1.7" stroke-linejoin="round" />
<path d="M1146,296 C1150,293 1157,294 1161,298 C1163,302 1162,307 1159,310 C1156,312 1153,311 1151,309 L1148,308 C1146,306 1145,302 1146,296 Z" fill="#fff" stroke="#000" stroke-width="2.2" stroke-linejoin="round" />
<circle cx="1156" cy="300" r="2.3" fill="#000"/>
<line x1="1147.0" y1="305.0" x2="1151.0" y2="309.0" stroke="#000" stroke-width="2.2" />
<ellipse cx="1178.5" cy="319.6" rx="4.3" ry="5.6" transform="rotate(30 1178.5 319.6)" fill="#000"/>
<ellipse cx="1178.8" cy="319.8" rx="1.6" ry="2.5" transform="rotate(30 1178.5 319.6)" fill="#fff"/>
<polygon points="1195.4,331.8 1209.4,339.8 1212.6,334.2 1198.6,326.2" fill="#fff" stroke="#000" stroke-width="1.4"/>
<line x1="1198.2" y1="333.4" x2="1199.7" y2="326.8" stroke="#000" stroke-width="1"/>
<line x1="1200.1" y1="334.5" x2="1201.6" y2="327.9" stroke="#000" stroke-width="1"/>
<line x1="1202.0" y1="335.6" x2="1203.5" y2="329.0" stroke="#000" stroke-width="1"/>
<line x1="1203.9" y1="336.7" x2="1205.4" y2="330.0" stroke="#000" stroke-width="1"/>
<line x1="1205.8" y1="337.8" x2="1207.3" y2="331.1" stroke="#000" stroke-width="1"/>
<line x1="1207.7" y1="338.9" x2="1209.2" y2="332.2" stroke="#000" stroke-width="1"/>
<polygon points="1196.8,329.4 1196.7,329.4 1197.2,328.5 1197.2,328.6" fill="#fff" stroke="#000" stroke-width="1.4" stroke-linejoin="round"/>
<ellipse cx="1196.9" cy="329.0" rx="0.3" ry="0.5" transform="rotate(29.7 1196.9 329.0)" fill="#fff" stroke="#000" stroke-width="1.4"/>
<ellipse cx="1197.0" cy="329.0" rx="0.3" ry="0.5" transform="rotate(29.7 1197.0 329.0)" fill="none" stroke="#000" stroke-width="1.1199999999999999"/>
<polygon points="1209.2,343.6 1208.8,343.4 1208.5,343.1 1208.2,342.8 1207.9,342.4 1207.6,342.1 1207.4,341.7 1207.2,341.3 1207.0,340.9 1206.9,340.4 1206.8,340.0 1206.8,339.5 1206.7,339.0 1206.7,338.5 1206.8,338.0 1206.9,337.5 1207.0,337.0 1207.1,336.6 1207.3,336.1 1207.5,335.6 1207.8,335.2 1208.1,334.7 1208.4,334.3 1208.7,333.9 1209.0,333.6 1209.4,333.2 1209.8,332.9 1210.2,332.7 1210.6,332.4 1211.1,332.2 1211.5,332.0 1212.0,331.9 1212.4,331.8 1212.9,331.8 1213.3,331.7 1213.8,331.8 1214.2,331.8 1214.6,331.9 1215.0,332.0 1215.4,332.2 1215.8,332.4 1218.3,333.9 1218.7,334.1 1219.0,334.4 1219.3,334.7 1219.6,335.1 1219.9,335.4 1220.1,335.8 1220.3,336.2 1220.5,336.6 1220.6,337.1 1220.7,337.5 1220.7,338.0 1220.8,338.5 1220.8,339.0 1220.7,339.5 1220.6,340.0 1220.5,340.5 1220.4,340.9 1220.2,341.4 1220.0,341.9 1219.7,342.3 1219.4,342.8 1219.1,343.2 1218.8,343.6 1218.5,343.9 1218.1,344.3 1217.7,344.6 1217.3,344.8 1216.9,345.1 1216.4,345.3 1216.0,345.5 1215.5,345.6 1215.1,345.7 1214.6,345.7 1214.2,345.8 1213.7,345.7 1213.3,345.7 1212.9,345.6 1212.5,345.5 1212.1,345.3 1211.7,345.1" fill="#fff" stroke="#000" stroke-width="2" stroke-linejoin="round"/>
<ellipse cx="1215.0" cy="339.5" rx="5.5" ry="6.5" transform="rotate(30 1215.0 339.5)" fill="#fff" stroke="#000" stroke-width="2" />
<ellipse cx="1215.5" cy="340.0" rx="2.4" ry="3.0" transform="rotate(30 1215.5 340.0)" fill="#000" stroke="#000" stroke-width="1.8" />
<polygon points="1056.0,363.7 1055.4,363.4 1054.9,362.9 1054.4,362.4 1053.9,361.9 1053.5,361.3 1053.2,360.7 1052.9,360.0 1052.6,359.3 1052.4,358.6 1052.3,357.8 1052.2,357.0 1052.1,356.2 1052.1,355.3 1052.2,354.5 1052.3,353.7 1052.5,352.8 1052.7,352.0 1053.0,351.2 1053.3,350.4 1053.7,349.6 1054.1,348.9 1054.6,348.1 1055.1,347.5 1055.6,346.8 1056.2,346.2 1056.8,345.7 1057.4,345.2 1058.0,344.7 1058.7,344.3 1059.4,344.0 1060.1,343.7 1060.8,343.5 1061.5,343.4 1062.2,343.3 1062.9,343.3 1063.5,343.4 1064.2,343.5 1064.8,343.7 1065.5,343.9 1066.0,344.3 1071.0,347.3 1071.6,347.6 1072.1,348.1 1072.6,348.6 1073.1,349.1 1073.5,349.7 1073.8,350.3 1074.1,351.0 1074.4,351.7 1074.6,352.4 1074.7,353.2 1074.8,354.0 1074.9,354.8 1074.9,355.7 1074.8,356.5 1074.7,357.3 1074.5,358.2 1074.3,359.0 1074.0,359.8 1073.7,360.6 1073.3,361.4 1072.9,362.1 1072.4,362.9 1071.9,363.5 1071.4,364.2 1070.8,364.8 1070.2,365.3 1069.6,365.8 1069.0,366.3 1068.3,366.7 1067.6,367.0 1066.9,367.3 1066.2,367.5 1065.5,367.6 1064.8,367.7 1064.1,367.7 1063.5,367.6 1062.8,367.5 1062.2,367.3 1061.5,367.1 1061.0,366.7" fill="#fff" stroke="#000" stroke-width="2.2" stroke-linejoin="round"/>
<ellipse cx="1066.0" cy="357.0" rx="8.5" ry="11.0" transform="rotate(22 1066.0 357.0)" fill="#fff" stroke="#000" stroke-width="2.2" />
<ellipse cx="1065.0" cy="356.5" rx="5.0" ry="8.5" transform="rotate(22 1065.0 356.5)" fill="#fff" stroke="#000" stroke-width="2.2" />
<ellipse cx="1093.0" cy="372.0" rx="9.0" ry="12.5" transform="rotate(25 1093.0 372.0)" fill="#fff" stroke="#000" stroke-width="2.8" />
<ellipse cx="1093.0" cy="372.0" rx="6.5" ry="9.5" transform="rotate(25 1093.0 372.0)" fill="#fff" stroke="#000" stroke-width="1.4" />
<polygon points="1110.3,393.5 1109.8,393.2 1109.4,392.9 1109.0,392.5 1108.6,392.0 1108.3,391.5 1108.0,391.0 1107.7,390.4 1107.5,389.8 1107.4,389.2 1107.2,388.5 1107.1,387.9 1107.1,387.2 1107.1,386.5 1107.2,385.8 1107.3,385.0 1107.4,384.3 1107.6,383.6 1107.8,382.9 1108.1,382.2 1108.4,381.5 1108.7,380.9 1109.1,380.2 1109.5,379.6 1110.0,379.1 1110.5,378.5 1111.0,378.0 1111.5,377.6 1112.0,377.2 1112.6,376.8 1113.1,376.5 1113.7,376.3 1114.3,376.1 1114.9,375.9 1115.5,375.8 1116.0,375.8 1116.6,375.8 1117.1,375.9 1117.7,376.1 1118.2,376.2 1118.7,376.5 1122.2,378.5 1122.7,378.8 1123.1,379.1 1123.5,379.5 1123.9,380.0 1124.2,380.5 1124.5,381.0 1124.8,381.6 1125.0,382.2 1125.1,382.8 1125.3,383.5 1125.4,384.1 1125.4,384.8 1125.4,385.5 1125.3,386.2 1125.2,387.0 1125.1,387.7 1124.9,388.4 1124.7,389.1 1124.4,389.8 1124.1,390.5 1123.8,391.1 1123.4,391.8 1123.0,392.4 1122.5,392.9 1122.0,393.5 1121.5,394.0 1121.0,394.4 1120.5,394.8 1119.9,395.2 1119.4,395.5 1118.8,395.7 1118.2,395.9 1117.6,396.1 1117.0,396.2 1116.5,396.2 1115.9,396.2 1115.4,396.1 1114.8,395.9 1114.3,395.8 1113.8,395.5" fill="#fff" stroke="#000" stroke-width="2.1" stroke-linejoin="round"/>
<ellipse cx="1118.0" cy="387.0" rx="7.0" ry="9.5" transform="rotate(22 1118.0 387.0)" fill="#fff" stroke="#000" stroke-width="2.1" />
<ellipse cx="1117.0" cy="386.5" rx="4.5" ry="7.5" transform="rotate(22 1117.0 386.5)" fill="#fff" stroke="#000" stroke-width="1.8" />
<polygon points="1238.2,467.7 1237.7,467.4 1237.3,467.0 1236.9,466.6 1236.5,466.2 1236.1,465.7 1235.9,465.1 1235.6,464.5 1235.4,463.9 1235.2,463.3 1235.1,462.6 1235.0,461.9 1235.0,461.2 1235.0,460.4 1235.1,459.7 1235.2,458.9 1235.4,458.2 1235.5,457.4 1235.8,456.7 1236.1,455.9 1236.4,455.2 1236.8,454.5 1237.1,453.8 1237.6,453.2 1238.0,452.6 1238.5,452.0 1239.0,451.5 1239.6,451.0 1240.1,450.6 1240.7,450.2 1241.3,449.9 1241.8,449.6 1242.4,449.4 1243.0,449.2 1243.6,449.1 1244.2,449.1 1244.7,449.1 1245.3,449.2 1245.8,449.3 1246.4,449.5 1246.8,449.7 1250.3,451.7 1250.8,452.0 1251.2,452.4 1251.6,452.8 1252.0,453.2 1252.4,453.7 1252.6,454.3 1252.9,454.9 1253.1,455.5 1253.3,456.1 1253.4,456.8 1253.5,457.5 1253.5,458.2 1253.5,459.0 1253.4,459.7 1253.3,460.5 1253.1,461.2 1253.0,462.0 1252.7,462.7 1252.4,463.5 1252.1,464.2 1251.7,464.9 1251.4,465.6 1250.9,466.2 1250.5,466.8 1250.0,467.4 1249.5,467.9 1248.9,468.4 1248.4,468.8 1247.8,469.2 1247.2,469.5 1246.7,469.8 1246.1,470.0 1245.5,470.2 1244.9,470.3 1244.3,470.3 1243.8,470.3 1243.2,470.2 1242.7,470.1 1242.1,469.9 1241.7,469.7" fill="#fff" stroke="#000" stroke-width="2.1" stroke-linejoin="round"/>
<ellipse cx="1246.0" cy="460.7" rx="7.0" ry="10.0" transform="rotate(22 1246.0 460.7)" fill="#fff" stroke="#000" stroke-width="2.1" />
<ellipse cx="1245.0" cy="460.2" rx="4.5" ry="7.5" transform="rotate(22 1245.0 460.2)" fill="#fff" stroke="#000" stroke-width="1.8" />
<polygon points="1268.3,487.6 1267.6,487.1 1267.0,486.7 1266.4,486.1 1265.9,485.5 1265.4,484.8 1265.0,484.1 1264.6,483.3 1264.3,482.5 1264.0,481.6 1263.8,480.8 1263.7,479.9 1263.6,478.9 1263.6,478.0 1263.7,477.0 1263.8,476.1 1264.0,475.1 1264.2,474.2 1264.5,473.2 1264.9,472.3 1265.3,471.4 1265.8,470.6 1266.3,469.8 1266.9,469.0 1267.5,468.3 1268.2,467.6 1268.9,467.0 1269.6,466.4 1270.3,465.9 1271.1,465.5 1271.9,465.1 1272.7,464.8 1273.5,464.6 1274.3,464.4 1275.2,464.3 1276.0,464.3 1276.8,464.4 1277.5,464.5 1278.3,464.8 1279.0,465.1 1279.7,465.4 1285.7,468.9 1286.4,469.4 1287.0,469.8 1287.6,470.4 1288.1,471.0 1288.6,471.7 1289.0,472.4 1289.4,473.2 1289.7,474.0 1290.0,474.9 1290.2,475.7 1290.3,476.6 1290.4,477.6 1290.4,478.5 1290.3,479.5 1290.2,480.4 1290.0,481.4 1289.8,482.3 1289.5,483.3 1289.1,484.2 1288.7,485.1 1288.2,485.9 1287.7,486.7 1287.1,487.5 1286.5,488.2 1285.8,488.9 1285.1,489.5 1284.4,490.1 1283.7,490.6 1282.9,491.0 1282.1,491.4 1281.3,491.7 1280.5,491.9 1279.7,492.1 1278.8,492.2 1278.0,492.2 1277.2,492.1 1276.5,492.0 1275.7,491.7 1275.0,491.4 1274.3,491.1" fill="#fff" stroke="#000" stroke-width="2.1" stroke-linejoin="round"/>
<ellipse cx="1280.0" cy="480.0" rx="10.0" ry="12.5" transform="rotate(22 1280.0 480.0)" fill="#fff" stroke="#000" stroke-width="2.1" />
<ellipse cx="1280.0" cy="480.0" rx="2.0" ry="2.5" transform="rotate(22 1280.0 480.0)" fill="#fff" stroke="#000" stroke-width="1.2" />
<ellipse cx="1308.7" cy="497.0" rx="6.3" ry="8.3" transform="rotate(25 1308.7 497.0)" fill="#fff" stroke="#000" stroke-width="2.6" />
<ellipse cx="1309.0" cy="497.5" rx="3.5" ry="4.5" transform="rotate(25 1309.0 497.5)" fill="#fff" stroke="#000" stroke-width="2.6" />
<polygon points="1321.3,508.8 1334.3,516.8 1337.7,511.2 1324.7,503.2" fill="#fff" stroke="#000" stroke-width="1.4"/>
<line x1="1324.0" y1="510.4" x2="1325.7" y2="503.9" stroke="#000" stroke-width="1"/>
<line x1="1325.9" y1="511.6" x2="1327.6" y2="505.0" stroke="#000" stroke-width="1"/>
<line x1="1327.8" y1="512.8" x2="1329.5" y2="506.2" stroke="#000" stroke-width="1"/>
<line x1="1329.6" y1="513.9" x2="1331.3" y2="507.3" stroke="#000" stroke-width="1"/>
<line x1="1331.5" y1="515.1" x2="1333.2" y2="508.5" stroke="#000" stroke-width="1"/>
<polygon points="1322.7,506.4 1322.7,506.4 1323.2,505.5 1323.3,505.6" fill="#fff" stroke="#000" stroke-width="1.4" stroke-linejoin="round"/>
<ellipse cx="1322.9" cy="505.9" rx="0.3" ry="0.5" transform="rotate(31.6 1322.9 505.9)" fill="#fff" stroke="#000" stroke-width="1.4"/>
<ellipse cx="1323.0" cy="506.0" rx="0.3" ry="0.5" transform="rotate(31.6 1323.0 506.0)" fill="none" stroke="#000" stroke-width="1.1199999999999999"/>
<polygon points="1343.5,521.8 1336.8,522.8 1333.3,517.0 1336.5,510.2 1343.2,509.2 1346.7,515.0" fill="#fff" stroke="#000" stroke-width="2" stroke-linejoin="round"/>
<polygon points="1149.9,447.6 1148.2,446.7 1146.6,445.6 1145.2,444.3 1143.9,442.8 1142.7,441.1 1141.6,439.3 1140.6,437.4 1139.9,435.3 1139.2,433.1 1138.7,430.8 1138.4,428.4 1138.2,425.9 1138.2,423.4 1138.3,420.8 1138.6,418.1 1139.1,415.5 1139.7,412.8 1140.4,410.2 1141.3,407.6 1142.4,405.1 1143.6,402.6 1144.9,400.2 1146.3,397.9 1147.8,395.7 1149.4,393.6 1151.2,391.7 1153.0,389.9 1154.8,388.3 1156.8,386.8 1158.7,385.5 1160.7,384.4 1162.7,383.5 1164.8,382.8 1166.8,382.3 1168.8,382.0 1170.8,381.9 1172.7,382.0 1174.6,382.4 1176.4,382.9 1178.1,383.6 1215.1,401.6 1216.8,402.5 1218.4,403.6 1219.8,404.9 1221.1,406.4 1222.3,408.1 1223.4,409.9 1224.4,411.8 1225.1,413.9 1225.8,416.1 1226.3,418.4 1226.6,420.8 1226.8,423.3 1226.8,425.8 1226.7,428.4 1226.4,431.1 1225.9,433.7 1225.3,436.4 1224.6,439.0 1223.7,441.6 1222.6,444.1 1221.4,446.6 1220.1,449.0 1218.7,451.3 1217.2,453.5 1215.6,455.6 1213.8,457.5 1212.0,459.3 1210.2,460.9 1208.2,462.4 1206.3,463.7 1204.3,464.8 1202.3,465.7 1200.2,466.4 1198.2,466.9 1196.2,467.2 1194.2,467.3 1192.3,467.2 1190.4,466.8 1188.6,466.3 1186.9,465.6" fill="#fff" stroke="#000" stroke-width="1.8" stroke-linejoin="round"/>
<polyline points="1152.4,448.9 1150.8,447.9 1149.2,446.8 1147.8,445.5 1146.5,444.0 1145.3,442.4 1144.2,440.6 1143.2,438.6 1142.4,436.6 1141.8,434.4 1141.3,432.0 1141.0,429.6 1140.8,427.2 1140.8,424.6 1140.9,422.0 1141.2,419.4 1141.7,416.7 1142.3,414.1 1143.0,411.5 1143.9,408.9 1145.0,406.3 1146.2,403.9 1147.5,401.5 1148.9,399.2 1150.4,397.0 1152.0,394.9 1153.8,393.0 1155.6,391.2 1157.4,389.6 1159.3,388.1 1161.3,386.8 1163.3,385.7 1165.3,384.8 1167.4,384.1 1169.4,383.6 1171.4,383.3 1173.4,383.2 1175.3,383.3 1177.2,383.6 1179.0,384.1 1180.7,384.9" fill="none" stroke="#000" stroke-width="1.5"/>
<polyline points="1156.9,451.0 1155.3,450.1 1153.7,449.0 1152.3,447.7 1151.0,446.2 1149.8,444.6 1148.7,442.8 1147.7,440.8 1146.9,438.8 1146.3,436.5 1145.8,434.2 1145.5,431.8 1145.3,429.3 1145.3,426.8 1145.4,424.2 1145.7,421.6 1146.2,418.9 1146.8,416.3 1147.5,413.7 1148.4,411.1 1149.5,408.5 1150.7,406.1 1152.0,403.7 1153.4,401.4 1154.9,399.2 1156.5,397.1 1158.3,395.2 1160.1,393.4 1161.9,391.7 1163.8,390.3 1165.8,389.0 1167.8,387.9 1169.8,387.0 1171.9,386.3 1173.9,385.8 1175.9,385.5 1177.9,385.4 1179.8,385.5 1181.7,385.8 1183.5,386.3 1185.2,387.1" fill="none" stroke="#000" stroke-width="1.5"/>
<polyline points="1161.4,453.2 1159.8,452.3 1158.2,451.2 1156.8,449.9 1155.5,448.4 1154.3,446.8 1153.2,445.0 1152.2,443.0 1151.4,440.9 1150.8,438.7 1150.3,436.4 1150.0,434.0 1149.8,431.5 1149.8,429.0 1149.9,426.4 1150.2,423.8 1150.7,421.1 1151.3,418.5 1152.0,415.9 1152.9,413.3 1154.0,410.7 1155.2,408.3 1156.5,405.9 1157.9,403.5 1159.4,401.4 1161.0,399.3 1162.8,397.3 1164.6,395.6 1166.4,393.9 1168.3,392.5 1170.3,391.2 1172.3,390.1 1174.3,389.2 1176.4,388.5 1178.4,388.0 1180.4,387.7 1182.4,387.6 1184.3,387.7 1186.2,388.0 1188.0,388.5 1189.7,389.2" fill="none" stroke="#000" stroke-width="1.5"/>
<polyline points="1165.9,455.4 1164.3,454.5 1162.7,453.4 1161.3,452.1 1160.0,450.6 1158.8,449.0 1157.7,447.2 1156.7,445.2 1155.9,443.1 1155.3,440.9 1154.8,438.6 1154.5,436.2 1154.3,433.7 1154.3,431.2 1154.4,428.6 1154.7,426.0 1155.2,423.3 1155.8,420.7 1156.5,418.1 1157.4,415.5 1158.5,412.9 1159.7,410.4 1161.0,408.0 1162.4,405.7 1163.9,403.5 1165.5,401.5 1167.3,399.5 1169.1,397.8 1170.9,396.1 1172.9,394.7 1174.8,393.4 1176.8,392.3 1178.8,391.4 1180.9,390.7 1182.9,390.2 1184.9,389.9 1186.9,389.8 1188.8,389.9 1190.7,390.2 1192.5,390.7 1194.2,391.4" fill="none" stroke="#000" stroke-width="1.5"/>
<polyline points="1170.4,457.6 1168.8,456.7 1167.2,455.6 1165.8,454.3 1164.5,452.8 1163.3,451.2 1162.2,449.4 1161.2,447.4 1160.5,445.3 1159.8,443.1 1159.3,440.8 1159.0,438.4 1158.8,435.9 1158.8,433.4 1158.9,430.8 1159.2,428.2 1159.7,425.5 1160.3,422.9 1161.0,420.2 1161.9,417.7 1163.0,415.1 1164.2,412.6 1165.5,410.2 1166.9,407.9 1168.4,405.7 1170.0,403.7 1171.8,401.7 1173.6,399.9 1175.4,398.3 1177.4,396.8 1179.3,395.6 1181.3,394.5 1183.3,393.6 1185.4,392.9 1187.4,392.3 1189.4,392.0 1191.4,391.9 1193.3,392.1 1195.2,392.4 1197.0,392.9 1198.7,393.6" fill="none" stroke="#000" stroke-width="1.5"/>
<polyline points="1175.0,459.8 1173.3,458.9 1171.7,457.8 1170.3,456.5 1169.0,455.0 1167.8,453.3 1166.7,451.5 1165.7,449.6 1165.0,447.5 1164.3,445.3 1163.8,443.0 1163.5,440.6 1163.3,438.1 1163.3,435.6 1163.4,433.0 1163.7,430.3 1164.2,427.7 1164.8,425.1 1165.5,422.4 1166.4,419.8 1167.5,417.3 1168.7,414.8 1170.0,412.4 1171.4,410.1 1172.9,407.9 1174.5,405.9 1176.3,403.9 1178.1,402.1 1179.9,400.5 1181.9,399.0 1183.8,397.8 1185.8,396.7 1187.8,395.7 1189.9,395.0 1191.9,394.5 1193.9,394.2 1195.9,394.1 1197.8,394.2 1199.7,394.6 1201.5,395.1 1203.2,395.8" fill="none" stroke="#000" stroke-width="1.5"/>
<polyline points="1179.5,462.0 1177.8,461.1 1176.2,460.0 1174.8,458.7 1173.5,457.2 1172.3,455.5 1171.2,453.7 1170.2,451.8 1169.5,449.7 1168.8,447.5 1168.3,445.2 1168.0,442.8 1167.8,440.3 1167.8,437.8 1167.9,435.2 1168.2,432.5 1168.7,429.9 1169.3,427.2 1170.0,424.6 1170.9,422.0 1172.0,419.5 1173.2,417.0 1174.5,414.6 1175.9,412.3 1177.4,410.1 1179.0,408.0 1180.8,406.1 1182.6,404.3 1184.4,402.7 1186.4,401.2 1188.3,399.9 1190.3,398.8 1192.3,397.9 1194.4,397.2 1196.4,396.7 1198.4,396.4 1200.4,396.3 1202.3,396.4 1204.2,396.8 1206.0,397.3 1207.7,398.0" fill="none" stroke="#000" stroke-width="1.5"/>
<ellipse cx="1201.0" cy="433.6" rx="24.0" ry="35.0" transform="rotate(22 1201.0 433.6)" fill="#fff" stroke="#000" stroke-width="1.8" />
<ellipse cx="1200.0" cy="433.0" rx="20.5" ry="31.0" transform="rotate(22 1200.0 433.0)" fill="#fff" stroke="#000" stroke-width="1.3" />
<path d="M1199,413 L1221,428 M1183,448 L1204,458" fill="none" stroke="#000" stroke-width="1.4" stroke-linejoin="round" />
<ellipse cx="1216.4" cy="444.0" rx="11.0" ry="15.0" transform="rotate(22 1216.4 444.0)" fill="#fff" stroke="#000" stroke-width="1.7" />
<ellipse cx="1216.0" cy="443.5" rx="5.5" ry="8.5" transform="rotate(22 1216.0 443.5)" fill="#fff" stroke="#000" stroke-width="1.5" />
<ellipse cx="1216.0" cy="443.5" rx="3.5" ry="6.0" transform="rotate(22 1216.0 443.5)" fill="#fff" stroke="#000" stroke-width="1.2" />
<ellipse cx="1000.8" cy="411.7" rx="4.3" ry="5.6" transform="rotate(30 1000.8 411.7)" fill="#000"/>
<ellipse cx="1001.1" cy="411.9" rx="1.6" ry="2.5" transform="rotate(30 1000.8 411.7)" fill="#fff"/>
<polygon points="1018.3,425.8 1031.3,433.8 1034.7,428.2 1021.7,420.2" fill="#fff" stroke="#000" stroke-width="1.4"/>
<line x1="1021.0" y1="427.4" x2="1022.7" y2="420.9" stroke="#000" stroke-width="1"/>
<line x1="1022.9" y1="428.6" x2="1024.6" y2="422.0" stroke="#000" stroke-width="1"/>
<line x1="1024.8" y1="429.8" x2="1026.5" y2="423.2" stroke="#000" stroke-width="1"/>
<line x1="1026.6" y1="430.9" x2="1028.3" y2="424.3" stroke="#000" stroke-width="1"/>
<line x1="1028.5" y1="432.1" x2="1030.2" y2="425.5" stroke="#000" stroke-width="1"/>
<polygon points="1019.7,423.4 1019.7,423.4 1020.2,422.5 1020.3,422.6" fill="#fff" stroke="#000" stroke-width="1.4" stroke-linejoin="round"/>
<ellipse cx="1019.9" cy="422.9" rx="0.3" ry="0.5" transform="rotate(31.6 1019.9 422.9)" fill="#fff" stroke="#000" stroke-width="1.4"/>
<ellipse cx="1020.0" cy="423.0" rx="0.3" ry="0.5" transform="rotate(31.6 1020.0 423.0)" fill="none" stroke="#000" stroke-width="1.1199999999999999"/>
<polygon points="1030.2,437.6 1029.8,437.4 1029.5,437.1 1029.2,436.8 1028.9,436.4 1028.6,436.1 1028.4,435.7 1028.2,435.3 1028.0,434.9 1027.9,434.4 1027.8,434.0 1027.8,433.5 1027.7,433.0 1027.7,432.5 1027.8,432.0 1027.9,431.5 1028.0,431.0 1028.1,430.6 1028.3,430.1 1028.5,429.6 1028.8,429.2 1029.1,428.7 1029.4,428.3 1029.7,427.9 1030.0,427.6 1030.4,427.2 1030.8,426.9 1031.2,426.7 1031.6,426.4 1032.1,426.2 1032.5,426.0 1033.0,425.9 1033.4,425.8 1033.9,425.8 1034.3,425.7 1034.8,425.8 1035.2,425.8 1035.6,425.9 1036.0,426.0 1036.4,426.2 1036.8,426.4 1039.3,427.9 1039.7,428.1 1040.0,428.4 1040.3,428.7 1040.6,429.1 1040.9,429.4 1041.1,429.8 1041.3,430.2 1041.5,430.6 1041.6,431.1 1041.7,431.5 1041.7,432.0 1041.8,432.5 1041.8,433.0 1041.7,433.5 1041.6,434.0 1041.5,434.5 1041.4,434.9 1041.2,435.4 1041.0,435.9 1040.7,436.3 1040.4,436.8 1040.1,437.2 1039.8,437.6 1039.5,437.9 1039.1,438.3 1038.7,438.6 1038.3,438.8 1037.9,439.1 1037.4,439.3 1037.0,439.5 1036.5,439.6 1036.1,439.7 1035.6,439.7 1035.2,439.8 1034.7,439.7 1034.3,439.7 1033.9,439.6 1033.5,439.5 1033.1,439.3 1032.7,439.1" fill="#fff" stroke="#000" stroke-width="2" stroke-linejoin="round"/>
<ellipse cx="1036.0" cy="433.5" rx="5.5" ry="6.5" transform="rotate(30 1036.0 433.5)" fill="#fff" stroke="#000" stroke-width="2" />
<ellipse cx="1036.5" cy="434.0" rx="2.4" ry="3.0" transform="rotate(30 1036.5 434.0)" fill="#000" stroke="#000" stroke-width="1.8" />
<polyline points="687.6,580.4 687.6,358.9" fill="none" stroke="#000" stroke-width="3" stroke-linecap="butt" stroke-linejoin="miter" stroke-dasharray="40 11 17 11" stroke-dashoffset="0"/>
<polyline points="687.6,580.4 501.0,687.0" fill="none" stroke="#000" stroke-width="3" stroke-linecap="butt" stroke-linejoin="miter" stroke-dasharray="40 11 17 11" stroke-dashoffset="0"/>
<polyline points="501.0,687.0 501.0,874.0" fill="none" stroke="#000" stroke-width="3" stroke-linecap="butt" stroke-linejoin="miter" stroke-dasharray="40 11 17 11" stroke-dashoffset="0"/>
<polyline points="501.0,874.0 954.0,874.0" fill="none" stroke="#000" stroke-width="3" stroke-linecap="butt" stroke-linejoin="miter" stroke-dasharray="40 11 17 11" stroke-dashoffset="0"/>
<polyline points="954.0,874.0 1130.6,771.2" fill="none" stroke="#000" stroke-width="3" stroke-linecap="butt" stroke-linejoin="miter" stroke-dasharray="40 11 17 11" stroke-dashoffset="0"/>
<polyline points="1130.6,771.2 1007.5,701.3" fill="none" stroke="#000" stroke-width="3" stroke-linecap="butt" stroke-linejoin="miter" stroke-dasharray="40 11 17 11" stroke-dashoffset="0"/>
<polyline points="1007.5,701.3 1007.5,544.2" fill="none" stroke="#000" stroke-width="3" stroke-linecap="butt" stroke-linejoin="miter" stroke-dasharray="40 11 17 11" stroke-dashoffset="0"/>
<polyline points="687.6,358.9 1007.5,544.2" fill="none" stroke="#000" stroke-width="3" stroke-linecap="butt" stroke-linejoin="miter" stroke-dasharray="40 11 17 11" stroke-dashoffset="0"/>
<polyline points="510.4,706.7 626.0,639.8" fill="none" stroke="#000" stroke-width="3" stroke-linecap="butt" stroke-linejoin="miter" stroke-dasharray="40 11 17 11" stroke-dashoffset="0"/>
<polyline points="626.0,639.8 758.4,717.4" fill="none" stroke="#000" stroke-width="3" stroke-linecap="butt" stroke-linejoin="miter" stroke-dasharray="40 11 17 11" stroke-dashoffset="0"/>
<polyline points="758.4,717.4 642.8,782.8" fill="none" stroke="#000" stroke-width="3" stroke-linecap="butt" stroke-linejoin="miter" stroke-dasharray="40 11 17 11" stroke-dashoffset="0"/>
<polyline points="642.8,782.8 510.4,706.7" fill="none" stroke="#000" stroke-width="3" stroke-linecap="butt" stroke-linejoin="miter" stroke-dasharray="40 11 17 11" stroke-dashoffset="0"/>
<polyline points="691.8,810.5 807.0,743.5" fill="none" stroke="#000" stroke-width="3" stroke-linecap="butt" stroke-linejoin="miter" stroke-dasharray="40 11 17 11" stroke-dashoffset="0"/>
<polyline points="807.0,743.5 897.5,797.6" fill="none" stroke="#000" stroke-width="3" stroke-linecap="butt" stroke-linejoin="miter" stroke-dasharray="40 11 17 11" stroke-dashoffset="0"/>
<polyline points="897.5,797.6 782.3,863.4" fill="none" stroke="#000" stroke-width="3" stroke-linecap="butt" stroke-linejoin="miter" stroke-dasharray="40 11 17 11" stroke-dashoffset="0"/>
<polyline points="782.3,863.4 691.8,810.5" fill="none" stroke="#000" stroke-width="3" stroke-linecap="butt" stroke-linejoin="miter" stroke-dasharray="40 11 17 11" stroke-dashoffset="0"/>
<polygon points="613.9,656.5 706.7,703.7 696.0,729.5 601.7,682.4" fill="#fff" stroke="#000" stroke-width="1.6" stroke-linejoin="round" />
<polyline points="611.2,662.2 704.3,709.4" fill="none" stroke="#000" stroke-width="1.3" stroke-linejoin="round" />
<rect x="613.6" y="671.4" width="3.6" height="3.6" fill="#fff" stroke="#000" stroke-width="1.2"/>
<rect x="637.9" y="683.6" width="3.6" height="3.6" fill="#fff" stroke="#000" stroke-width="1.2"/>
<rect x="662.2" y="696.7" width="3.6" height="3.6" fill="#fff" stroke="#000" stroke-width="1.2"/>
<rect x="686.6" y="708.9" width="3.6" height="3.6" fill="#fff" stroke="#000" stroke-width="1.2"/>
<polygon points="566.7,683.9 659.5,731.0 648.9,757.0 556.0,708.2" fill="#fff" stroke="#000" stroke-width="1.6" stroke-linejoin="round" />
<polyline points="564.3,689.2 657.2,736.7" fill="none" stroke="#000" stroke-width="1.3" stroke-linejoin="round" />
<rect x="567.0" y="698.8" width="3.6" height="3.6" fill="#fff" stroke="#000" stroke-width="1.2"/>
<rect x="591.4" y="711.0" width="3.6" height="3.6" fill="#fff" stroke="#000" stroke-width="1.2"/>
<rect x="615.7" y="723.8" width="3.6" height="3.6" fill="#fff" stroke="#000" stroke-width="1.2"/>
<rect x="640.1" y="736.2" width="3.6" height="3.6" fill="#fff" stroke="#000" stroke-width="1.2"/>
<polygon points="789.3,771.7 863.4,797.6 844.6,814.0 769.4,788.2" fill="#fff" stroke="#000" stroke-width="1.6" stroke-linejoin="round" />
<polyline points="784.9,775.3 859.3,801.2" fill="none" stroke="#000" stroke-width="1.3" stroke-linejoin="round" />
<rect x="786.9" y="781.2" width="4" height="3.6" fill="#000" transform="rotate(25 788.9 783.0)"/>
<rect x="806.1" y="788.0" width="4" height="3.6" fill="#000" transform="rotate(25 808.1 789.8)"/>
<rect x="825.4" y="794.6" width="4" height="3.6" fill="#000" transform="rotate(25 827.4 796.4)"/>
<rect x="845.0" y="801.2" width="4" height="3.6" fill="#000" transform="rotate(25 847.0 803.0)"/>
<polygon points="742.3,798.8 816.4,824.6 797.6,841.0 723.5,815.2" fill="#fff" stroke="#000" stroke-width="1.6" stroke-linejoin="round" />
<polyline points="738.2,802.4 812.3,828.2" fill="none" stroke="#000" stroke-width="1.3" stroke-linejoin="round" />
<rect x="740.3" y="808.2" width="4" height="3.6" fill="#000" transform="rotate(25 742.3 810.0)"/>
<rect x="759.6" y="814.6" width="4" height="3.6" fill="#000" transform="rotate(25 761.6 816.4)"/>
<rect x="779.1" y="821.2" width="4" height="3.6" fill="#000" transform="rotate(25 781.1 823.0)"/>
<rect x="798.0" y="828.0" width="4" height="3.6" fill="#000" transform="rotate(25 800.0 829.8)"/>
<defs><pattern id="dots" width="2" height="2" patternUnits="userSpaceOnUse"><rect width="2" height="2" fill="#fff"/><rect width="1" height="1" fill="#555"/><rect x="1" y="1" width="1" height="1" fill="#888"/></pattern></defs>
<polygon points="588,842 606.3,808.6 645.8,830" fill="url(#dots)" stroke="#000" stroke-width="1.3"/>
<polygon points="621.5,810.0 635.2,802.5 653.4,814.7 639.7,822.3" fill="url(#dots)" stroke="#000" stroke-width="1.3"/>
<polygon points="639.7,798.0 653.4,790.5 673.2,802.5 659.5,810.2" fill="url(#dots)" stroke="#000" stroke-width="1.3"/>
<polygon points="659.5,787.3 674.7,778.2 694.5,790.4 679.3,799.5" fill="url(#dots)" stroke="#000" stroke-width="1.3"/>
<path d="M642.4,440.3 L655.9,447.8 A3.25,3.25 0 0 0 659.1,442.2 L645.6,434.7 A3.25,3.25 0 0 0 642.4,440.3 Z" fill="#fff" stroke="#000" stroke-width="1.7"/>
<line x1="643.3" y1="438.8" x2="656.8" y2="446.3" stroke="#000" stroke-width="1"/>
<path d="M1040.9,678.8 L1054.9,686.8 A3.25,3.25 0 0 0 1058.1,681.2 L1044.1,673.2 A3.25,3.25 0 0 0 1040.9,678.8 Z" fill="#fff" stroke="#000" stroke-width="1.7"/>
<line x1="1041.8" y1="677.3" x2="1055.8" y2="685.3" stroke="#000" stroke-width="1"/>
<g>
<polygon points="733.5,488.9 747.5,481.4 744.5,475.6 730.5,483.1" fill="#fff" stroke="#000" stroke-width="1.3"/>
<line x1="736.4" y1="487.4" x2="731.5" y2="482.6" stroke="#000" stroke-width="1"/>
<line x1="738.3" y1="486.3" x2="733.5" y2="481.5" stroke="#000" stroke-width="1"/>
<line x1="740.2" y1="485.3" x2="735.4" y2="480.5" stroke="#000" stroke-width="1"/>
<line x1="742.2" y1="484.2" x2="737.3" y2="479.5" stroke="#000" stroke-width="1"/>
<line x1="744.1" y1="483.2" x2="739.3" y2="478.4" stroke="#000" stroke-width="1"/>
<line x1="746.1" y1="482.2" x2="741.2" y2="477.4" stroke="#000" stroke-width="1"/>
<polygon points="732.2,486.4 732.1,486.5 731.7,485.6 731.8,485.6" fill="#fff" stroke="#000" stroke-width="1.3" stroke-linejoin="round"/>
<ellipse cx="731.9" cy="486.0" rx="0.3" ry="0.5" transform="rotate(-28.2 731.9 486.0)" fill="#fff" stroke="#000" stroke-width="1.3"/>
<ellipse cx="732.0" cy="486.0" rx="0.3" ry="0.5" transform="rotate(-28.2 732.0 486.0)" fill="none" stroke="#000" stroke-width="1.04"/>
<ellipse cx="728.9" cy="489.0" rx="4.8" ry="7.5" transform="rotate(-20 728.9 489.0)" fill="#fff" stroke="#000" stroke-width="1.6" />
</g>
<polyline points="766.0,460.0 771.3,465.6 764.0,467.0" fill="none" stroke="#000" stroke-width="1.1" stroke-linejoin="round" />
<g fill="none" stroke="#000" stroke-width="0.9" stroke-dasharray="1.2,1.6">
<polygon points="766.6,448.3 860.8,495.4 849.8,522.1 757,473.4"/>
<line x1="765" y1="453.8" x2="857.7" y2="500.5"/>
<line x1="760" y1="467" x2="853" y2="514"/>
</g>
<g font-size="5" fill="#000" stroke="none"><text x="793" y="477" transform="rotate(25 793 477)">27</text><text x="816" y="489" transform="rotate(25 816 489)">27</text><text x="838" y="501" transform="rotate(25 838 501)">27</text></g>
<polygon points="887.3,527.5 881.1,528.4 877.9,523.1 880.7,516.9 886.9,516.0 890.1,521.3" fill="#fff" stroke="#000" stroke-width="2.6" stroke-linejoin="round"/>
<ellipse cx="884.0" cy="522.2" rx="2.8" ry="3.4" transform="rotate(25 884.0 522.2)" fill="#fff" stroke="#000" stroke-width="1.8" />
<polygon points="850.6,542.7 850.2,542.4 850.0,542.2 849.7,541.9 849.4,541.5 849.2,541.1 849.0,540.7 848.9,540.3 848.8,539.9 848.7,539.4 848.6,538.9 848.6,538.4 848.6,537.9 848.6,537.4 848.7,536.9 848.8,536.3 849.0,535.8 849.1,535.3 849.3,534.8 849.6,534.3 849.8,533.8 850.1,533.3 850.4,532.9 850.7,532.5 851.1,532.1 851.4,531.7 851.8,531.4 852.2,531.0 852.6,530.8 853.0,530.5 853.5,530.3 853.9,530.2 854.3,530.0 854.7,530.0 855.2,529.9 855.6,529.9 856.0,530.0 856.4,530.0 856.7,530.2 857.1,530.3 857.4,530.5 860.4,532.5 860.8,532.8 861.0,533.0 861.3,533.3 861.6,533.7 861.8,534.1 862.0,534.5 862.1,534.9 862.2,535.3 862.3,535.8 862.4,536.3 862.4,536.8 862.4,537.3 862.4,537.8 862.3,538.3 862.2,538.9 862.0,539.4 861.9,539.9 861.7,540.4 861.4,540.9 861.2,541.4 860.9,541.9 860.6,542.3 860.3,542.7 859.9,543.1 859.6,543.5 859.2,543.8 858.8,544.2 858.4,544.4 858.0,544.7 857.5,544.9 857.1,545.0 856.7,545.2 856.3,545.2 855.8,545.3 855.4,545.3 855.0,545.2 854.6,545.2 854.3,545.0 853.9,544.9 853.6,544.7" fill="#fff" stroke="#000" stroke-width="1.6" stroke-linejoin="round"/>
<ellipse cx="857.0" cy="538.6" rx="5.0" ry="7.0" transform="rotate(25 857.0 538.6)" fill="#fff" stroke="#000" stroke-width="1.6" />
<ellipse cx="857.0" cy="538.6" rx="3.0" ry="4.5" transform="rotate(25 857.0 538.6)" fill="#fff" stroke="#000" stroke-width="1.2" />
<path d="M730,576.4 L779.8,603.3 L759,614 L730,597.9 Z" fill="#fff" stroke="#000" stroke-width="2.0" stroke-linejoin="round" />
<ellipse cx="725.5" cy="587.2" rx="6.0" ry="11.0" transform="rotate(25 725.5 587.2)" fill="#fff" stroke="#000" stroke-width="2.0" />
<path d="M733.5,580.6 L748,588 A2.3,2.3 0 0 1 746,592 L732,585 A2.3,2.3 0 0 1 733.5,580.6 Z" fill="none" stroke="#000" stroke-width="1.75" stroke-linejoin="round" />
<path d="M805.4,568.3 L818.9,548.8 L822,548 L912.5,595.8 L907,628 L850,622 L841.8,622.2 L836.4,587.1 L810.8,579 L807.4,569 Z" fill="#fff" stroke="#000" stroke-width="2.0" stroke-linejoin="round" />
<polyline points="820.5,553.0 910.1,598.1" fill="none" stroke="#000" stroke-width="1.62" stroke-linejoin="round" />
<polyline points="910.1,598.1 897.6,620.1" fill="none" stroke="#000" stroke-width="1.62" stroke-linejoin="round" />
<rect x="821.3" y="550.8" width="6" height="2.6" fill="#000" transform="rotate(28 824.3 552.1)"/>
<rect x="845.9" y="563.1" width="6" height="2.6" fill="#000" transform="rotate(28 848.9 564.4)"/>
<rect x="870.2" y="575.7" width="6" height="2.6" fill="#000" transform="rotate(28 873.2 577.0)"/>
<rect x="894.6" y="588.2" width="6" height="2.6" fill="#000" transform="rotate(28 897.6 589.5)"/>
<ellipse cx="821.6" cy="560.2" rx="1.6" ry="1.9" fill="#fff" stroke="#000" stroke-width="1.2"/>
<ellipse cx="845.0" cy="572.2" rx="1.6" ry="1.9" fill="#fff" stroke="#000" stroke-width="1.2"/>
<ellipse cx="869.3" cy="584.8" rx="1.6" ry="1.9" fill="#fff" stroke="#000" stroke-width="1.2"/>
<ellipse cx="893.6" cy="596.6" rx="1.6" ry="1.9" fill="#fff" stroke="#000" stroke-width="1.2"/>
<path d="M834.7,587.1 C838,600 839,612 841,621.7" fill="none" stroke="#000" stroke-width="1.62" stroke-linejoin="round" />
<polyline points="830.0,585.6 858.3,596.6" fill="none" stroke="#000" stroke-width="1.62" stroke-linejoin="round" />
<path d="M914.8,629.6 L991.8,655.5 L993.4,661 L990.2,659.4 L965.1,665.7 L952.5,673.5 L971.4,667.3 L975,668 L939,724 L922,712 L905,650 Z" fill="#fff" stroke="#000" stroke-width="2.12" stroke-linejoin="round" />
<path d="M922.7,634.3 C935,645 948,654 960.4,659.4" fill="none" stroke="#000" stroke-width="1.62" stroke-linejoin="round" />
<polyline points="916.0,632.5 990.5,658.0" fill="none" stroke="#000" stroke-width="1.5" stroke-linejoin="round" />
<rect x="921.0" y="633.8" width="3.5" height="2.5" fill="#000" transform="rotate(20 922.7 635.0)"/>
<rect x="939.8" y="640.9" width="3.5" height="2.5" fill="#000" transform="rotate(20 941.5 642.1)"/>
<rect x="958.6" y="647.1" width="3.5" height="2.5" fill="#000" transform="rotate(20 960.4 648.4)"/>
<rect x="977.5" y="654.2" width="3.5" height="2.5" fill="#000" transform="rotate(20 979.3 655.5)"/>
<ellipse cx="938.4" cy="664.1" rx="1.6" ry="1.9" fill="#fff" stroke="#000" stroke-width="1.2"/>
<path d="M758.3,616.8 C775,609 800,595 818.9,577.7 L822.3,579.7 L816.2,593.9 L822.9,585.8 C826,584 831,584 837.7,587.1 L850,592.5 L858,597 L866,628 L827,637 L766,630 Z" fill="#fff" stroke="#000" stroke-width="2.0" stroke-linejoin="round" />
<path d="M760.5,619.5 C777,611.5 802,598 820.5,581" fill="none" stroke="#000" stroke-width="1.62" stroke-linejoin="round" />
<ellipse cx="796.0" cy="604.6" rx="1.6" ry="1.9" fill="#fff" stroke="#000" stroke-width="1.2"/>
<ellipse cx="830.3" cy="606.0" rx="1.6" ry="1.9" fill="#fff" stroke="#000" stroke-width="1.2"/>
<polyline points="768.9,614.8 768.5,614.4 768.2,613.9 767.9,613.4 767.7,612.8 767.5,612.2 767.4,611.5 767.3,610.8 767.4,610.1 767.4,609.3 767.6,608.5 767.8,607.7 768.0,606.9 768.4,606.1 768.7,605.4 769.1,604.7 769.6,604.0 770.1,603.3 770.6,602.7 771.1,602.2 771.7,601.7 772.3,601.3 772.9,601.0 773.5,600.7 774.1,600.6 774.6,600.5 775.2,600.5 775.7,600.5 776.2,600.7 776.7,600.9 777.1,601.2" fill="none" stroke="#000" stroke-width="1.88"/>
<polygon points="797.5,638.1 797.0,637.8 796.6,637.4 796.2,637.0 795.9,636.5 795.6,635.9 795.4,635.3 795.2,634.6 795.0,633.9 794.9,633.2 794.9,632.4 794.9,631.6 794.9,630.7 795.0,629.9 795.2,629.0 795.4,628.1 795.6,627.2 795.9,626.4 796.2,625.5 796.6,624.6 797.0,623.8 797.5,622.9 798.0,622.2 798.5,621.4 799.0,620.7 799.6,620.0 800.2,619.3 800.8,618.8 801.4,618.2 802.0,617.8 802.7,617.3 803.3,617.0 804.0,616.7 804.6,616.5 805.2,616.3 805.8,616.2 806.4,616.2 807.0,616.3 807.5,616.4 808.0,616.6 808.5,616.9 812.5,619.4 813.0,619.7 813.4,620.1 813.8,620.5 814.1,621.0 814.4,621.6 814.6,622.2 814.8,622.9 815.0,623.6 815.1,624.3 815.1,625.1 815.1,625.9 815.1,626.8 815.0,627.6 814.8,628.5 814.6,629.4 814.4,630.3 814.1,631.1 813.8,632.0 813.4,632.9 813.0,633.7 812.5,634.6 812.0,635.3 811.5,636.1 811.0,636.8 810.4,637.5 809.8,638.2 809.2,638.7 808.6,639.3 808.0,639.7 807.3,640.2 806.7,640.5 806.0,640.8 805.4,641.0 804.8,641.2 804.2,641.3 803.6,641.3 803.0,641.2 802.5,641.1 802.0,640.9 801.5,640.6" fill="#fff" stroke="#000" stroke-width="1.9" stroke-linejoin="round"/>
<ellipse cx="807.0" cy="630.0" rx="7.0" ry="12.0" transform="rotate(25 807.0 630.0)" fill="#fff" stroke="#000" stroke-width="1.9" />
<ellipse cx="809.5" cy="631.5" rx="6.5" ry="11.5" transform="rotate(25 809.5 631.5)" fill="none" stroke="#000" stroke-width="1.3" />
<path d="M827,631.6 L865.3,617 L909.1,664.6 C898,690 886,712 871.3,737.9 L803,694.1 L805.6,690.7 L834.2,648.6 Z" fill="#fff" stroke="#000" stroke-width="1.88" stroke-linejoin="round" />
<polyline points="829.0,635.0 864.0,621.5" fill="none" stroke="#000" stroke-width="1.62" stroke-linejoin="round" />
<ellipse cx="856.7" cy="639.0" rx="1.6" ry="1.9" fill="#fff" stroke="#000" stroke-width="1.2"/>
<ellipse cx="840.2" cy="664.1" rx="1.6" ry="1.9" fill="#fff" stroke="#000" stroke-width="1.2"/>
<ellipse cx="838.4" cy="689.0" rx="1.6" ry="1.9" fill="#fff" stroke="#000" stroke-width="1.2"/>
<ellipse cx="851.9" cy="700.8" rx="1.6" ry="1.9" fill="#fff" stroke="#000" stroke-width="1.2"/>
<ellipse cx="873.0" cy="690.7" rx="1.6" ry="1.9" fill="#fff" stroke="#000" stroke-width="1.2"/>
<ellipse cx="894.4" cy="652.3" rx="1.6" ry="1.9" fill="#fff" stroke="#000" stroke-width="1.2"/>
<ellipse cx="889.7" cy="665.7" rx="1.6" ry="1.9" fill="#fff" stroke="#000" stroke-width="1.2"/>
<ellipse cx="900.7" cy="698.3" rx="1.6" ry="1.9" fill="#fff" stroke="#000" stroke-width="1.2"/>
<path d="M805.6,690.7 L817,683 L824.1,685.7 L834.2,677.3 C832,684 832,690 834.2,690.7 L857.8,714.3 L876.3,724.4" fill="none" stroke="#000" stroke-width="1.62" stroke-linejoin="round" />
<path d="M862,700 C863,706 866,711 881.4,717.7 M869.6,708.4 L891.5,700.8" fill="none" stroke="#000" stroke-width="1.62" stroke-linejoin="round" />
<path d="M871.3,655.4 L901.6,672.2 L894,694.1 L864.5,677.3 Z" fill="#fff" stroke="#000" stroke-width="1.75" stroke-linejoin="round" />
<ellipse cx="865.4" cy="666.0" rx="6.5" ry="11.5" transform="rotate(25 865.4 666.0)" fill="#fff" stroke="#000" stroke-width="2.0" />
<ellipse cx="868.0" cy="665.0" rx="6.0" ry="11.0" transform="rotate(25 868.0 665.0)" fill="none" stroke="#000" stroke-width="1.5" />
<path d="M766,628.4 C772,645 774,670 768.5,697.5 L761.8,695.8 L824.1,737 L827.5,737.9 L834.2,721 L819,711 L805,690 L795.5,675.6 L826.6,654.5 L805,640 Z" fill="#fff" stroke="#000" stroke-width="1.88" stroke-linejoin="round" />
<path d="M769,628.5 C775,646 777,671 771.5,697" fill="none" stroke="#000" stroke-width="1.62" stroke-linejoin="round" />
<polyline points="763.5,699.0 825.8,734.5" fill="none" stroke="#000" stroke-width="1.62" stroke-linejoin="round" />
<polyline points="819.0,711.0 817.4,734.5" fill="none" stroke="#000" stroke-width="1.62" stroke-linejoin="round" />
<path d="M793,666.3 C791,672 792,679 792.1,679 C795,685 799,689 803.9,692.4" fill="none" stroke="#000" stroke-width="1.62" stroke-linejoin="round" />
<polyline points="777.0,699.2 792.1,668.8" fill="none" stroke="#000" stroke-width="1.5" stroke-linejoin="round" />
<circle cx="789.6" cy="703.4" r="2" fill="#000"/>
<circle cx="805.6" cy="714.3" r="2" fill="#000"/>
<ellipse cx="777.8" cy="654.5" rx="1.6" ry="1.9" fill="#fff" stroke="#000" stroke-width="1.2"/>
<ellipse cx="812.3" cy="656.2" rx="1.6" ry="1.9" fill="#fff" stroke="#000" stroke-width="1.2"/>
<path d="M740.8,614.7 L827,631.6 L828,637 L824.3,642.4 L739.4,622.8 L737.5,618 Z" fill="#fff" stroke="#000" stroke-width="2.12" stroke-linejoin="round" />
<polyline points="741.4,619.5 825.6,637.0" fill="none" stroke="#000" stroke-width="1.62" stroke-linejoin="round" />
<rect x="740.5" y="620.0" width="6" height="4.5" fill="#000" transform="rotate(12 743.5 622.2)"/>
<rect x="764.7" y="626.0" width="6" height="4.5" fill="#000" transform="rotate(12 767.7 628.2)"/>
<rect x="787.6" y="630.6" width="6" height="4.5" fill="#000" transform="rotate(12 790.6 632.9)"/>
<rect x="809.8" y="636.0" width="6" height="4.5" fill="#000" transform="rotate(12 812.8 638.3)"/>
<polyline points="825.8,640.2 849.4,647.8" fill="none" stroke="#000" stroke-width="1.62" stroke-linejoin="round" />
<polyline points="826.0,643.5 849.4,650.0" fill="none" stroke="#000" stroke-width="1.62" stroke-linejoin="round" />
<path d="M834.2,648.6 C825,665 815,680 805.6,690.7" fill="none" stroke="#000" stroke-width="1.75" stroke-linejoin="round" />
<path d="M837,648 C828,665 818,681 808.5,692" fill="none" stroke="#000" stroke-width="1.75" stroke-linejoin="round" />
<path d="M909.1,664.6 C898,690 886,712 871.3,737.9" fill="none" stroke="#000" stroke-width="1.75" stroke-linejoin="round" />
<path d="M912,665 C901,691 889,713 874.5,739" fill="none" stroke="#000" stroke-width="1.75" stroke-linejoin="round" />
<path d="M803,694.1 L805.6,690.7 L884.7,749.5 L883,756.4 Z" fill="#fff" stroke="#000" stroke-width="2.12" stroke-linejoin="round" />
<polyline points="805.0,693.0 884.0,753.0" fill="none" stroke="#000" stroke-width="1.5" stroke-linejoin="round" />
<circle cx="819.0" cy="700.0" r="2" fill="#000"/>
<circle cx="840.1" cy="716.8" r="2" fill="#000"/>
<circle cx="861.1" cy="732.8" r="2" fill="#000"/>
<circle cx="882.2" cy="749.7" r="2" fill="#000"/>
<path d="M860.6,593.4 L867,591.8 L922.7,648.4 L921.1,670.4 L916.4,676.7 L911.7,653.1 L870.8,624.8 L867.7,628 L858.3,597.3 Z" fill="#fff" stroke="#000" stroke-width="2.12" stroke-linejoin="round" />
<polyline points="863.0,597.0 920.0,651.0" fill="none" stroke="#000" stroke-width="1.75" stroke-linejoin="round" />
<circle cx="866.9" cy="601.3" r="2.6" fill="#000"/>
<circle cx="882.6" cy="617.0" r="2.6" fill="#000"/>
<circle cx="897.6" cy="632.7" r="2.6" fill="#000"/>
<circle cx="913.3" cy="648.4" r="2.6" fill="#000"/>
<path d="M928.5,690 L1071.4,772.8 L1062.7,789 L926,717 Z" fill="#fff" stroke="#000" stroke-width="2.0" stroke-linejoin="round" />
<ellipse cx="926.0" cy="704.2" rx="8.0" ry="13.5" transform="rotate(25 926.0 704.2)" fill="#fff" stroke="#000" stroke-width="2.0" />
<ellipse cx="929.5" cy="703.5" rx="7.5" ry="13.0" transform="rotate(25 929.5 703.5)" fill="#fff" stroke="#000" stroke-width="1.62" />
<polyline points="1005.1,760.9 1004.6,760.6 1004.0,760.1 1003.6,759.6 1003.2,758.9 1002.8,758.2 1002.6,757.3 1002.4,756.4 1002.4,755.4 1002.4,754.4 1002.5,753.3 1002.6,752.2 1002.9,751.1 1003.2,750.0 1003.6,748.9 1004.1,747.8 1004.6,746.7 1005.2,745.6 1005.9,744.7 1006.6,743.8 1007.3,742.9 1008.1,742.2 1008.9,741.5 1009.7,740.9 1010.5,740.5 1011.3,740.1 1012.0,739.9 1012.8,739.7 1013.5,739.7 1014.2,739.8 1014.9,740.1" fill="none" stroke="#000" stroke-width="2.4"/>
<polyline points="1008.4,762.0 1007.8,761.6 1007.3,761.2 1006.9,760.7 1006.5,760.1 1006.3,759.4 1006.0,758.6 1005.9,757.7 1005.8,756.8 1005.9,755.8 1006.0,754.8 1006.1,753.7 1006.4,752.7 1006.7,751.6 1007.1,750.5 1007.6,749.5 1008.1,748.4 1008.6,747.4 1009.3,746.5 1009.9,745.6 1010.6,744.8 1011.3,744.1 1012.1,743.4 1012.8,742.9 1013.6,742.4 1014.3,742.1 1015.0,741.9 1015.7,741.7 1016.4,741.7 1017.1,741.8 1017.6,742.0" fill="none" stroke="#000" stroke-width="1.5"/>
<path d="M1040,757 L1058,767 A2.3,2.3 0 0 1 1056,771 L1038,761 A2.3,2.3 0 0 1 1040,757 Z" fill="none" stroke="#000" stroke-width="1.62" stroke-linejoin="round" />
<ellipse cx="1067.9" cy="781.8" rx="6.0" ry="10.0" transform="rotate(25 1067.9 781.8)" fill="#fff" stroke="#000" stroke-width="2.0" />
<ellipse cx="1068.0" cy="782.0" rx="2.8" ry="3.5" transform="rotate(25 1068.0 782.0)" fill="#fff" stroke="#000" stroke-width="1.5" />
<path d="M874.5,739 L898.2,727.8 L899.9,727 L898.2,737.9 L928.5,754.7 L950.4,759.8" fill="none" stroke="#000" stroke-width="1.75" stroke-linejoin="round" />
<path d="M937,724.4 L951.2,739.6 L952.9,758 L941,759.5 L933.6,757 L936,740 Z" fill="#fff" stroke="#000" stroke-width="1.88" stroke-linejoin="round" />
<polyline points="900.0,741.0 930.0,757.0" fill="none" stroke="#000" stroke-width="1.5" stroke-linejoin="round" />
<circle cx="944.5" cy="750.5" r="2.2" fill="#000"/>
<ellipse cx="911.7" cy="735.4" rx="1.6" ry="1.9" fill="#fff" stroke="#000" stroke-width="1.2"/>
</svg></body></html>
